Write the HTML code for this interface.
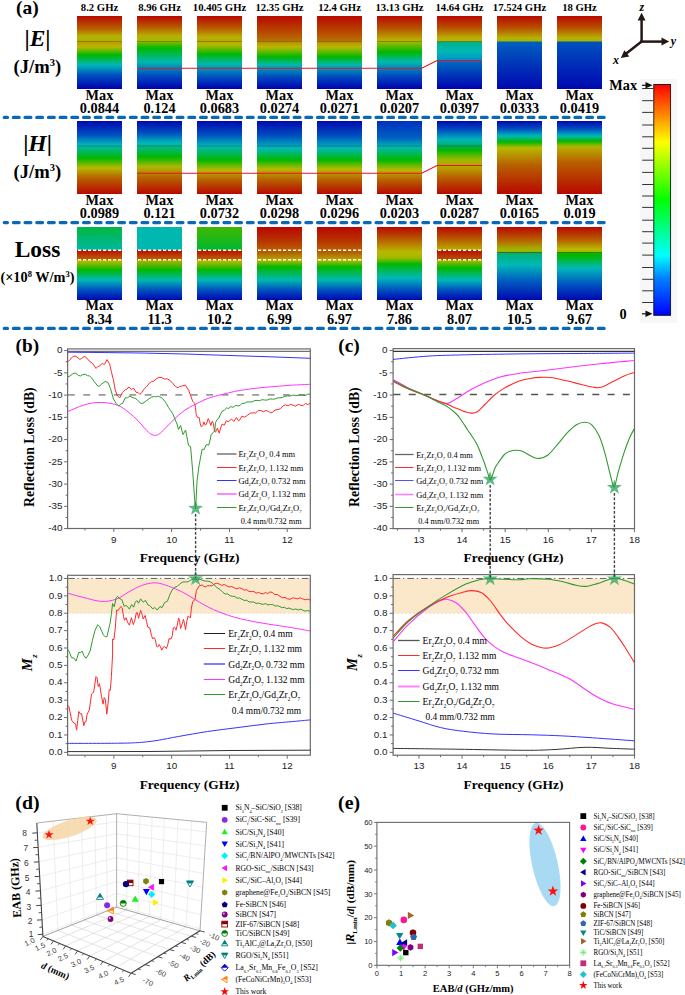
<!DOCTYPE html>
<html><head><meta charset="utf-8"><style>
html,body{margin:0;padding:0;background:#fff;}
body{width:685px;height:995px;overflow:hidden;}
svg{display:block;}
</style></head><body>
<svg width="685" height="995" viewBox="0 0 685 995">
<defs><linearGradient id="g0_0" x1="0" y1="0" x2="0" y2="1"><stop offset="0.0000" stop-color="#b80800"/><stop offset="0.1781" stop-color="#b86000"/><stop offset="0.2740" stop-color="#b8b000"/><stop offset="0.3425" stop-color="#a8b400"/><stop offset="0.3562" stop-color="#c09800"/><stop offset="0.4247" stop-color="#b8b800"/><stop offset="0.5342" stop-color="#00b800"/><stop offset="0.6712" stop-color="#00b8b8"/><stop offset="0.8082" stop-color="#0050c0"/><stop offset="1.0000" stop-color="#0000b0"/></linearGradient><linearGradient id="g0_1" x1="0" y1="0" x2="0" y2="1"><stop offset="0.0000" stop-color="#b80800"/><stop offset="0.1370" stop-color="#b85000"/><stop offset="0.2740" stop-color="#b8b000"/><stop offset="0.3425" stop-color="#a0b800"/><stop offset="0.3562" stop-color="#80b800"/><stop offset="0.4384" stop-color="#00b800"/><stop offset="0.6301" stop-color="#00b8b0"/><stop offset="0.8082" stop-color="#0050c0"/><stop offset="1.0000" stop-color="#0000b0"/></linearGradient><linearGradient id="g0_2" x1="0" y1="0" x2="0" y2="1"><stop offset="0.0000" stop-color="#b80800"/><stop offset="0.1644" stop-color="#b85800"/><stop offset="0.2877" stop-color="#b8b000"/><stop offset="0.3425" stop-color="#b8a800"/><stop offset="0.3562" stop-color="#b8b000"/><stop offset="0.3973" stop-color="#b0b800"/><stop offset="0.5205" stop-color="#00b800"/><stop offset="0.6575" stop-color="#00b8b0"/><stop offset="0.8356" stop-color="#0050c0"/><stop offset="1.0000" stop-color="#0000b0"/></linearGradient><linearGradient id="g0_3" x1="0" y1="0" x2="0" y2="1"><stop offset="0.0000" stop-color="#b80800"/><stop offset="0.1918" stop-color="#b84000"/><stop offset="0.3425" stop-color="#b87000"/><stop offset="0.3562" stop-color="#b89000"/><stop offset="0.4247" stop-color="#b8b800"/><stop offset="0.5616" stop-color="#00b800"/><stop offset="0.6712" stop-color="#00b8b0"/><stop offset="0.8219" stop-color="#0050c0"/><stop offset="1.0000" stop-color="#0000b0"/></linearGradient><linearGradient id="g0_4" x1="0" y1="0" x2="0" y2="1"><stop offset="0.0000" stop-color="#b80800"/><stop offset="0.1918" stop-color="#b84000"/><stop offset="0.3425" stop-color="#b87000"/><stop offset="0.3562" stop-color="#b89000"/><stop offset="0.4247" stop-color="#b8b800"/><stop offset="0.5616" stop-color="#00b800"/><stop offset="0.6712" stop-color="#00b8b0"/><stop offset="0.8219" stop-color="#0050c0"/><stop offset="1.0000" stop-color="#0000b0"/></linearGradient><linearGradient id="g0_5" x1="0" y1="0" x2="0" y2="1"><stop offset="0.0000" stop-color="#b80800"/><stop offset="0.1644" stop-color="#b85000"/><stop offset="0.3288" stop-color="#b8b000"/><stop offset="0.3562" stop-color="#a0b800"/><stop offset="0.4932" stop-color="#00b800"/><stop offset="0.6301" stop-color="#00b8b0"/><stop offset="0.8082" stop-color="#0050c0"/><stop offset="1.0000" stop-color="#0000b0"/></linearGradient><linearGradient id="g0_6" x1="0" y1="0" x2="0" y2="1"><stop offset="0.0000" stop-color="#b80800"/><stop offset="0.1644" stop-color="#b85000"/><stop offset="0.3014" stop-color="#b8b000"/><stop offset="0.3479" stop-color="#b0b800"/><stop offset="0.3507" stop-color="#00b088"/><stop offset="0.4932" stop-color="#00b8b8"/><stop offset="0.6027" stop-color="#0090c0"/><stop offset="0.6301" stop-color="#0068c0"/><stop offset="1.0000" stop-color="#0000b0"/></linearGradient><linearGradient id="g0_7" x1="0" y1="0" x2="0" y2="1"><stop offset="0.0000" stop-color="#b80800"/><stop offset="0.1644" stop-color="#b85000"/><stop offset="0.3014" stop-color="#b8b000"/><stop offset="0.3479" stop-color="#a0b800"/><stop offset="0.3507" stop-color="#0060c0"/><stop offset="1.0000" stop-color="#0008b0"/></linearGradient><linearGradient id="g0_8" x1="0" y1="0" x2="0" y2="1"><stop offset="0.0000" stop-color="#b80800"/><stop offset="0.1644" stop-color="#b85000"/><stop offset="0.3014" stop-color="#b8b000"/><stop offset="0.3479" stop-color="#a0b800"/><stop offset="0.3507" stop-color="#0050c0"/><stop offset="1.0000" stop-color="#0008b0"/></linearGradient><linearGradient id="g1_0" x1="0" y1="0" x2="0" y2="1"><stop offset="0.0000" stop-color="#0008b0"/><stop offset="0.1918" stop-color="#0050c0"/><stop offset="0.3288" stop-color="#00b8b8"/><stop offset="0.5068" stop-color="#00b800"/><stop offset="0.6438" stop-color="#b8b800"/><stop offset="0.7808" stop-color="#b86000"/><stop offset="1.0000" stop-color="#b80800"/></linearGradient><linearGradient id="g1_1" x1="0" y1="0" x2="0" y2="1"><stop offset="0.0000" stop-color="#0008b0"/><stop offset="0.1644" stop-color="#0050c0"/><stop offset="0.3014" stop-color="#00b8b8"/><stop offset="0.4932" stop-color="#00b800"/><stop offset="0.6301" stop-color="#b0b800"/><stop offset="0.7808" stop-color="#b86000"/><stop offset="1.0000" stop-color="#b80800"/></linearGradient><linearGradient id="g1_2" x1="0" y1="0" x2="0" y2="1"><stop offset="0.0000" stop-color="#0008b0"/><stop offset="0.1918" stop-color="#0050c0"/><stop offset="0.3425" stop-color="#00b8b8"/><stop offset="0.5342" stop-color="#00b800"/><stop offset="0.6712" stop-color="#b8b800"/><stop offset="0.8082" stop-color="#b86000"/><stop offset="1.0000" stop-color="#b80800"/></linearGradient><linearGradient id="g1_3" x1="0" y1="0" x2="0" y2="1"><stop offset="0.0000" stop-color="#0008b0"/><stop offset="0.2055" stop-color="#0050c0"/><stop offset="0.3699" stop-color="#00b8b8"/><stop offset="0.5342" stop-color="#00b800"/><stop offset="0.6575" stop-color="#b8b800"/><stop offset="0.8082" stop-color="#b86000"/><stop offset="1.0000" stop-color="#b80800"/></linearGradient><linearGradient id="g1_4" x1="0" y1="0" x2="0" y2="1"><stop offset="0.0000" stop-color="#0008b0"/><stop offset="0.2055" stop-color="#0050c0"/><stop offset="0.3699" stop-color="#00b8b8"/><stop offset="0.5342" stop-color="#00b800"/><stop offset="0.6575" stop-color="#b8b800"/><stop offset="0.8082" stop-color="#b86000"/><stop offset="1.0000" stop-color="#b80800"/></linearGradient><linearGradient id="g1_5" x1="0" y1="0" x2="0" y2="1"><stop offset="0.0000" stop-color="#0030c0"/><stop offset="0.2329" stop-color="#0060c0"/><stop offset="0.3562" stop-color="#00b8b0"/><stop offset="0.5342" stop-color="#00b800"/><stop offset="0.6712" stop-color="#b8b800"/><stop offset="0.8082" stop-color="#b86000"/><stop offset="1.0000" stop-color="#b80800"/></linearGradient><linearGradient id="g1_6" x1="0" y1="0" x2="0" y2="1"><stop offset="0.0000" stop-color="#0008b0"/><stop offset="0.1233" stop-color="#0050c0"/><stop offset="0.2603" stop-color="#00b8b8"/><stop offset="0.3425" stop-color="#00b060"/><stop offset="0.3973" stop-color="#00b800"/><stop offset="0.5342" stop-color="#a0b800"/><stop offset="0.6438" stop-color="#b8a000"/><stop offset="0.8082" stop-color="#b85000"/><stop offset="1.0000" stop-color="#b80800"/></linearGradient><linearGradient id="g1_7" x1="0" y1="0" x2="0" y2="1"><stop offset="0.0000" stop-color="#0008b0"/><stop offset="0.1096" stop-color="#0050c0"/><stop offset="0.2055" stop-color="#00b8b8"/><stop offset="0.2877" stop-color="#00b800"/><stop offset="0.3425" stop-color="#80b800"/><stop offset="0.3699" stop-color="#b8b800"/><stop offset="0.6027" stop-color="#b86000"/><stop offset="1.0000" stop-color="#b80800"/></linearGradient><linearGradient id="g1_8" x1="0" y1="0" x2="0" y2="1"><stop offset="0.0000" stop-color="#0008b0"/><stop offset="0.1096" stop-color="#0050c0"/><stop offset="0.2055" stop-color="#00b8b8"/><stop offset="0.2740" stop-color="#00b800"/><stop offset="0.3425" stop-color="#a0b800"/><stop offset="0.3699" stop-color="#b8a800"/><stop offset="0.5616" stop-color="#b86000"/><stop offset="1.0000" stop-color="#b80800"/></linearGradient><linearGradient id="g2_0" x1="0" y1="0" x2="0" y2="1"><stop offset="0.0000" stop-color="#00b840"/><stop offset="0.3151" stop-color="#00b8a0"/><stop offset="0.3219" stop-color="#b81000"/><stop offset="0.4452" stop-color="#c06000"/><stop offset="0.4521" stop-color="#b0b800"/><stop offset="0.4795" stop-color="#a8b800"/><stop offset="0.5890" stop-color="#00b800"/><stop offset="0.7260" stop-color="#00b8b8"/><stop offset="0.8630" stop-color="#0050c0"/><stop offset="1.0000" stop-color="#0008b0"/></linearGradient><linearGradient id="g2_1" x1="0" y1="0" x2="0" y2="1"><stop offset="0.0000" stop-color="#00b8b0"/><stop offset="0.3151" stop-color="#00b8b0"/><stop offset="0.3219" stop-color="#b81000"/><stop offset="0.4452" stop-color="#c06000"/><stop offset="0.4521" stop-color="#b8b000"/><stop offset="0.5890" stop-color="#00b800"/><stop offset="0.7260" stop-color="#00b8b0"/><stop offset="0.8630" stop-color="#0050c0"/><stop offset="1.0000" stop-color="#0008b0"/></linearGradient><linearGradient id="g2_2" x1="0" y1="0" x2="0" y2="1"><stop offset="0.0000" stop-color="#40b800"/><stop offset="0.3151" stop-color="#00b830"/><stop offset="0.3219" stop-color="#b81000"/><stop offset="0.4452" stop-color="#c06000"/><stop offset="0.4521" stop-color="#b0b800"/><stop offset="0.4795" stop-color="#a8b800"/><stop offset="0.5890" stop-color="#00b800"/><stop offset="0.7260" stop-color="#00b8b8"/><stop offset="0.8630" stop-color="#0050c0"/><stop offset="1.0000" stop-color="#0008b0"/></linearGradient><linearGradient id="g2_3" x1="0" y1="0" x2="0" y2="1"><stop offset="0.0000" stop-color="#b80800"/><stop offset="0.1781" stop-color="#b83000"/><stop offset="0.3151" stop-color="#b86000"/><stop offset="0.3219" stop-color="#b05000"/><stop offset="0.4452" stop-color="#b8a000"/><stop offset="0.4521" stop-color="#b8b800"/><stop offset="0.5479" stop-color="#00b800"/><stop offset="0.7260" stop-color="#00b8b0"/><stop offset="0.8630" stop-color="#0050c0"/><stop offset="1.0000" stop-color="#0008b0"/></linearGradient><linearGradient id="g2_4" x1="0" y1="0" x2="0" y2="1"><stop offset="0.0000" stop-color="#b80800"/><stop offset="0.1781" stop-color="#b83000"/><stop offset="0.3151" stop-color="#b86000"/><stop offset="0.3219" stop-color="#b05000"/><stop offset="0.4452" stop-color="#b8a000"/><stop offset="0.4521" stop-color="#b8b800"/><stop offset="0.5479" stop-color="#00b800"/><stop offset="0.7260" stop-color="#00b8b0"/><stop offset="0.8630" stop-color="#0050c0"/><stop offset="1.0000" stop-color="#0008b0"/></linearGradient><linearGradient id="g2_5" x1="0" y1="0" x2="0" y2="1"><stop offset="0.0000" stop-color="#b80800"/><stop offset="0.1781" stop-color="#b86000"/><stop offset="0.3425" stop-color="#b8b800"/><stop offset="0.4247" stop-color="#a0b800"/><stop offset="0.5068" stop-color="#00b800"/><stop offset="0.6986" stop-color="#00b8b8"/><stop offset="0.8630" stop-color="#0050c0"/><stop offset="1.0000" stop-color="#0008b0"/></linearGradient><linearGradient id="g2_6" x1="0" y1="0" x2="0" y2="1"><stop offset="0.0000" stop-color="#b80800"/><stop offset="0.1781" stop-color="#b86000"/><stop offset="0.3151" stop-color="#b8b000"/><stop offset="0.3219" stop-color="#b81000"/><stop offset="0.4452" stop-color="#b85000"/><stop offset="0.4521" stop-color="#b0b800"/><stop offset="0.5616" stop-color="#00b800"/><stop offset="0.7260" stop-color="#00b8b8"/><stop offset="0.8630" stop-color="#0050c0"/><stop offset="1.0000" stop-color="#0008b0"/></linearGradient><linearGradient id="g2_7" x1="0" y1="0" x2="0" y2="1"><stop offset="0.0000" stop-color="#b80800"/><stop offset="0.1781" stop-color="#b86000"/><stop offset="0.3151" stop-color="#a0b800"/><stop offset="0.3479" stop-color="#90b000"/><stop offset="0.3507" stop-color="#00b070"/><stop offset="0.5205" stop-color="#00b8b8"/><stop offset="0.7260" stop-color="#0060c0"/><stop offset="1.0000" stop-color="#0008b0"/></linearGradient><linearGradient id="g2_8" x1="0" y1="0" x2="0" y2="1"><stop offset="0.0000" stop-color="#b80800"/><stop offset="0.1781" stop-color="#b86000"/><stop offset="0.3014" stop-color="#b8b800"/><stop offset="0.3479" stop-color="#a0b800"/><stop offset="0.3507" stop-color="#00b800"/><stop offset="0.3973" stop-color="#00b800"/><stop offset="0.5616" stop-color="#00b8b8"/><stop offset="0.7945" stop-color="#0050c0"/><stop offset="1.0000" stop-color="#0008b0"/></linearGradient><linearGradient id="cbar" x1="0" y1="0" x2="0" y2="1"><stop offset="0" stop-color="#ff0000"/><stop offset="0.125" stop-color="#ff8000"/><stop offset="0.25" stop-color="#ffff00"/><stop offset="0.5" stop-color="#00ff00"/><stop offset="0.74" stop-color="#00ffff"/><stop offset="0.84" stop-color="#0080ff"/><stop offset="1" stop-color="#0000ff"/></linearGradient></defs>
<rect width="685" height="995" fill="#fff"/>
<rect x="77" y="16" width="45" height="73" fill="url(#g0_0)"/>
<text x="99.5" y="100" font-family='"Liberation Serif", serif' font-weight="bold" font-size="14.3" text-anchor="middle">Max</text>
<text x="99.5" y="113.4" font-family='"Liberation Serif", serif' font-weight="bold" font-size="14.3" text-anchor="middle">0.0844</text>
<rect x="137" y="16" width="45" height="73" fill="url(#g0_1)"/>
<text x="159.5" y="100" font-family='"Liberation Serif", serif' font-weight="bold" font-size="14.3" text-anchor="middle">Max</text>
<text x="159.5" y="113.4" font-family='"Liberation Serif", serif' font-weight="bold" font-size="14.3" text-anchor="middle">0.124</text>
<rect x="197" y="16" width="45" height="73" fill="url(#g0_2)"/>
<text x="219.5" y="100" font-family='"Liberation Serif", serif' font-weight="bold" font-size="14.3" text-anchor="middle">Max</text>
<text x="219.5" y="113.4" font-family='"Liberation Serif", serif' font-weight="bold" font-size="14.3" text-anchor="middle">0.0683</text>
<rect x="257" y="16" width="45" height="73" fill="url(#g0_3)"/>
<text x="279.5" y="100" font-family='"Liberation Serif", serif' font-weight="bold" font-size="14.3" text-anchor="middle">Max</text>
<text x="279.5" y="113.4" font-family='"Liberation Serif", serif' font-weight="bold" font-size="14.3" text-anchor="middle">0.0274</text>
<rect x="317" y="16" width="45" height="73" fill="url(#g0_4)"/>
<text x="339.5" y="100" font-family='"Liberation Serif", serif' font-weight="bold" font-size="14.3" text-anchor="middle">Max</text>
<text x="339.5" y="113.4" font-family='"Liberation Serif", serif' font-weight="bold" font-size="14.3" text-anchor="middle">0.0271</text>
<rect x="377" y="16" width="45" height="73" fill="url(#g0_5)"/>
<text x="399.5" y="100" font-family='"Liberation Serif", serif' font-weight="bold" font-size="14.3" text-anchor="middle">Max</text>
<text x="399.5" y="113.4" font-family='"Liberation Serif", serif' font-weight="bold" font-size="14.3" text-anchor="middle">0.0207</text>
<rect x="437" y="16" width="45" height="73" fill="url(#g0_6)"/>
<text x="459.5" y="100" font-family='"Liberation Serif", serif' font-weight="bold" font-size="14.3" text-anchor="middle">Max</text>
<text x="459.5" y="113.4" font-family='"Liberation Serif", serif' font-weight="bold" font-size="14.3" text-anchor="middle">0.0397</text>
<rect x="497" y="16" width="45" height="73" fill="url(#g0_7)"/>
<text x="519.5" y="100" font-family='"Liberation Serif", serif' font-weight="bold" font-size="14.3" text-anchor="middle">Max</text>
<text x="519.5" y="113.4" font-family='"Liberation Serif", serif' font-weight="bold" font-size="14.3" text-anchor="middle">0.0333</text>
<rect x="557" y="16" width="45" height="73" fill="url(#g0_8)"/>
<text x="579.5" y="100" font-family='"Liberation Serif", serif' font-weight="bold" font-size="14.3" text-anchor="middle">Max</text>
<text x="579.5" y="113.4" font-family='"Liberation Serif", serif' font-weight="bold" font-size="14.3" text-anchor="middle">0.0419</text>
<rect x="77" y="121" width="45" height="73" fill="url(#g1_0)"/>
<text x="99.5" y="204.8" font-family='"Liberation Serif", serif' font-weight="bold" font-size="14.3" text-anchor="middle">Max</text>
<text x="99.5" y="218.2" font-family='"Liberation Serif", serif' font-weight="bold" font-size="14.3" text-anchor="middle">0.0989</text>
<rect x="137" y="121" width="45" height="73" fill="url(#g1_1)"/>
<text x="159.5" y="204.8" font-family='"Liberation Serif", serif' font-weight="bold" font-size="14.3" text-anchor="middle">Max</text>
<text x="159.5" y="218.2" font-family='"Liberation Serif", serif' font-weight="bold" font-size="14.3" text-anchor="middle">0.121</text>
<rect x="197" y="121" width="45" height="73" fill="url(#g1_2)"/>
<text x="219.5" y="204.8" font-family='"Liberation Serif", serif' font-weight="bold" font-size="14.3" text-anchor="middle">Max</text>
<text x="219.5" y="218.2" font-family='"Liberation Serif", serif' font-weight="bold" font-size="14.3" text-anchor="middle">0.0732</text>
<rect x="257" y="121" width="45" height="73" fill="url(#g1_3)"/>
<text x="279.5" y="204.8" font-family='"Liberation Serif", serif' font-weight="bold" font-size="14.3" text-anchor="middle">Max</text>
<text x="279.5" y="218.2" font-family='"Liberation Serif", serif' font-weight="bold" font-size="14.3" text-anchor="middle">0.0298</text>
<rect x="317" y="121" width="45" height="73" fill="url(#g1_4)"/>
<text x="339.5" y="204.8" font-family='"Liberation Serif", serif' font-weight="bold" font-size="14.3" text-anchor="middle">Max</text>
<text x="339.5" y="218.2" font-family='"Liberation Serif", serif' font-weight="bold" font-size="14.3" text-anchor="middle">0.0296</text>
<rect x="377" y="121" width="45" height="73" fill="url(#g1_5)"/>
<text x="399.5" y="204.8" font-family='"Liberation Serif", serif' font-weight="bold" font-size="14.3" text-anchor="middle">Max</text>
<text x="399.5" y="218.2" font-family='"Liberation Serif", serif' font-weight="bold" font-size="14.3" text-anchor="middle">0.0203</text>
<rect x="437" y="121" width="45" height="73" fill="url(#g1_6)"/>
<text x="459.5" y="204.8" font-family='"Liberation Serif", serif' font-weight="bold" font-size="14.3" text-anchor="middle">Max</text>
<text x="459.5" y="218.2" font-family='"Liberation Serif", serif' font-weight="bold" font-size="14.3" text-anchor="middle">0.0287</text>
<rect x="497" y="121" width="45" height="73" fill="url(#g1_7)"/>
<text x="519.5" y="204.8" font-family='"Liberation Serif", serif' font-weight="bold" font-size="14.3" text-anchor="middle">Max</text>
<text x="519.5" y="218.2" font-family='"Liberation Serif", serif' font-weight="bold" font-size="14.3" text-anchor="middle">0.0165</text>
<rect x="557" y="121" width="45" height="73" fill="url(#g1_8)"/>
<text x="579.5" y="204.8" font-family='"Liberation Serif", serif' font-weight="bold" font-size="14.3" text-anchor="middle">Max</text>
<text x="579.5" y="218.2" font-family='"Liberation Serif", serif' font-weight="bold" font-size="14.3" text-anchor="middle">0.019</text>
<rect x="77" y="227" width="45" height="73" fill="url(#g2_0)"/>
<text x="99.5" y="310.4" font-family='"Liberation Serif", serif' font-weight="bold" font-size="14.3" text-anchor="middle">Max</text>
<text x="99.5" y="323.8" font-family='"Liberation Serif", serif' font-weight="bold" font-size="14.3" text-anchor="middle">8.34</text>
<rect x="137" y="227" width="45" height="73" fill="url(#g2_1)"/>
<text x="159.5" y="310.4" font-family='"Liberation Serif", serif' font-weight="bold" font-size="14.3" text-anchor="middle">Max</text>
<text x="159.5" y="323.8" font-family='"Liberation Serif", serif' font-weight="bold" font-size="14.3" text-anchor="middle">11.3</text>
<rect x="197" y="227" width="45" height="73" fill="url(#g2_2)"/>
<text x="219.5" y="310.4" font-family='"Liberation Serif", serif' font-weight="bold" font-size="14.3" text-anchor="middle">Max</text>
<text x="219.5" y="323.8" font-family='"Liberation Serif", serif' font-weight="bold" font-size="14.3" text-anchor="middle">10.2</text>
<rect x="257" y="227" width="45" height="73" fill="url(#g2_3)"/>
<text x="279.5" y="310.4" font-family='"Liberation Serif", serif' font-weight="bold" font-size="14.3" text-anchor="middle">Max</text>
<text x="279.5" y="323.8" font-family='"Liberation Serif", serif' font-weight="bold" font-size="14.3" text-anchor="middle">6.99</text>
<rect x="317" y="227" width="45" height="73" fill="url(#g2_4)"/>
<text x="339.5" y="310.4" font-family='"Liberation Serif", serif' font-weight="bold" font-size="14.3" text-anchor="middle">Max</text>
<text x="339.5" y="323.8" font-family='"Liberation Serif", serif' font-weight="bold" font-size="14.3" text-anchor="middle">6.97</text>
<rect x="377" y="227" width="45" height="73" fill="url(#g2_5)"/>
<text x="399.5" y="310.4" font-family='"Liberation Serif", serif' font-weight="bold" font-size="14.3" text-anchor="middle">Max</text>
<text x="399.5" y="323.8" font-family='"Liberation Serif", serif' font-weight="bold" font-size="14.3" text-anchor="middle">7.86</text>
<rect x="437" y="227" width="45" height="73" fill="url(#g2_6)"/>
<text x="459.5" y="310.4" font-family='"Liberation Serif", serif' font-weight="bold" font-size="14.3" text-anchor="middle">Max</text>
<text x="459.5" y="323.8" font-family='"Liberation Serif", serif' font-weight="bold" font-size="14.3" text-anchor="middle">8.07</text>
<rect x="497" y="227" width="45" height="73" fill="url(#g2_7)"/>
<text x="519.5" y="310.4" font-family='"Liberation Serif", serif' font-weight="bold" font-size="14.3" text-anchor="middle">Max</text>
<text x="519.5" y="323.8" font-family='"Liberation Serif", serif' font-weight="bold" font-size="14.3" text-anchor="middle">10.5</text>
<rect x="557" y="227" width="45" height="73" fill="url(#g2_8)"/>
<text x="579.5" y="310.4" font-family='"Liberation Serif", serif' font-weight="bold" font-size="14.3" text-anchor="middle">Max</text>
<text x="579.5" y="323.8" font-family='"Liberation Serif", serif' font-weight="bold" font-size="14.3" text-anchor="middle">9.67</text>
<line x1="77" y1="41.5" x2="122" y2="41.5" stroke="#5a4a10" stroke-opacity="0.55" stroke-width="0.8"/>
<line x1="77" y1="146" x2="122" y2="146" stroke="#104040" stroke-opacity="0.5" stroke-width="0.8"/>
<line x1="78" y1="250.3" x2="122" y2="250.3" stroke="#fff" stroke-width="1.4" stroke-dasharray="3.2 1.8"/>
<line x1="78" y1="259.7" x2="122" y2="259.7" stroke="#fff" stroke-width="1.4" stroke-dasharray="3.2 1.8"/>
<line x1="137" y1="41.5" x2="182" y2="41.5" stroke="#5a4a10" stroke-opacity="0.55" stroke-width="0.8"/>
<line x1="137" y1="146" x2="182" y2="146" stroke="#104040" stroke-opacity="0.5" stroke-width="0.8"/>
<line x1="138" y1="250.3" x2="182" y2="250.3" stroke="#fff" stroke-width="1.4" stroke-dasharray="3.2 1.8"/>
<line x1="138" y1="259.7" x2="182" y2="259.7" stroke="#fff" stroke-width="1.4" stroke-dasharray="3.2 1.8"/>
<line x1="197" y1="41.5" x2="242" y2="41.5" stroke="#5a4a10" stroke-opacity="0.55" stroke-width="0.8"/>
<line x1="197" y1="146" x2="242" y2="146" stroke="#104040" stroke-opacity="0.5" stroke-width="0.8"/>
<line x1="198" y1="250.3" x2="242" y2="250.3" stroke="#fff" stroke-width="1.4" stroke-dasharray="3.2 1.8"/>
<line x1="198" y1="259.7" x2="242" y2="259.7" stroke="#fff" stroke-width="1.4" stroke-dasharray="3.2 1.8"/>
<line x1="257" y1="41.5" x2="302" y2="41.5" stroke="#5a4a10" stroke-opacity="0.55" stroke-width="0.8"/>
<line x1="257" y1="146" x2="302" y2="146" stroke="#104040" stroke-opacity="0.5" stroke-width="0.8"/>
<line x1="258" y1="250.3" x2="302" y2="250.3" stroke="#fff" stroke-width="1.4" stroke-dasharray="3.2 1.8"/>
<line x1="258" y1="259.7" x2="302" y2="259.7" stroke="#fff" stroke-width="1.4" stroke-dasharray="3.2 1.8"/>
<line x1="317" y1="41.5" x2="362" y2="41.5" stroke="#5a4a10" stroke-opacity="0.55" stroke-width="0.8"/>
<line x1="317" y1="146" x2="362" y2="146" stroke="#104040" stroke-opacity="0.5" stroke-width="0.8"/>
<line x1="318" y1="250.3" x2="362" y2="250.3" stroke="#fff" stroke-width="1.4" stroke-dasharray="3.2 1.8"/>
<line x1="318" y1="259.7" x2="362" y2="259.7" stroke="#fff" stroke-width="1.4" stroke-dasharray="3.2 1.8"/>
<line x1="377" y1="41.5" x2="422" y2="41.5" stroke="#5a4a10" stroke-opacity="0.55" stroke-width="0.8"/>
<line x1="377" y1="146" x2="422" y2="146" stroke="#104040" stroke-opacity="0.5" stroke-width="0.8"/>
<line x1="437" y1="41.5" x2="482" y2="41.5" stroke="#5a4a10" stroke-opacity="0.55" stroke-width="0.8"/>
<line x1="437" y1="146" x2="482" y2="146" stroke="#104040" stroke-opacity="0.5" stroke-width="0.8"/>
<line x1="438" y1="250.3" x2="482" y2="250.3" stroke="#fff" stroke-width="1.4" stroke-dasharray="3.2 1.8"/>
<line x1="438" y1="259.7" x2="482" y2="259.7" stroke="#fff" stroke-width="1.4" stroke-dasharray="3.2 1.8"/>
<line x1="497" y1="252.5" x2="542" y2="252.5" stroke="#304000" stroke-opacity="0.6" stroke-width="0.9"/>
<line x1="557" y1="252.5" x2="602" y2="252.5" stroke="#304000" stroke-opacity="0.6" stroke-width="0.9"/>
<polyline points="137,68.3 421.7,68.3 437,60.5 482,60.5" fill="none" stroke="#e8102a" stroke-width="1.1"/>
<polyline points="137,173.2 421.7,173.2 437,165.5 482,165.5" fill="none" stroke="#e8102a" stroke-width="1.1"/>
<text x="99.5" y="11.4" font-family='"Liberation Serif", serif' font-weight="bold" font-size="10.7" text-anchor="middle">8.2 GHz</text>
<text x="159.5" y="11.4" font-family='"Liberation Serif", serif' font-weight="bold" font-size="10.7" text-anchor="middle">8.96 GHz</text>
<text x="219.5" y="11.4" font-family='"Liberation Serif", serif' font-weight="bold" font-size="10.7" text-anchor="middle">10.405 GHz</text>
<text x="279.5" y="11.4" font-family='"Liberation Serif", serif' font-weight="bold" font-size="10.7" text-anchor="middle">12.35 GHz</text>
<text x="339.5" y="11.4" font-family='"Liberation Serif", serif' font-weight="bold" font-size="10.7" text-anchor="middle">12.4 GHz</text>
<text x="399.5" y="11.4" font-family='"Liberation Serif", serif' font-weight="bold" font-size="10.7" text-anchor="middle">13.13 GHz</text>
<text x="459.5" y="11.4" font-family='"Liberation Serif", serif' font-weight="bold" font-size="10.7" text-anchor="middle">14.64 GHz</text>
<text x="519.5" y="11.4" font-family='"Liberation Serif", serif' font-weight="bold" font-size="10.7" text-anchor="middle">17.524 GHz</text>
<text x="579.5" y="11.4" font-family='"Liberation Serif", serif' font-weight="bold" font-size="10.7" text-anchor="middle">18 GHz</text>
<line x1="4.2" y1="117.4" x2="607.4" y2="117.4" stroke="#0a68b8" stroke-width="3.1" stroke-linecap="round" stroke-dasharray="5.9 5.8" stroke-dashoffset="2.6"/>
<line x1="4.2" y1="222.6" x2="607.4" y2="222.6" stroke="#0a68b8" stroke-width="3.1" stroke-linecap="round" stroke-dasharray="5.9 5.8" stroke-dashoffset="2.6"/>
<line x1="4.2" y1="328.4" x2="607.4" y2="328.4" stroke="#0a68b8" stroke-width="3.1" stroke-linecap="round" stroke-dasharray="5.9 5.8" stroke-dashoffset="2.6"/>
<text x="16" y="13.6" font-family='"Liberation Serif", serif' font-weight="bold" font-size="19.5">(a)</text>
<text x="37.5" y="45.8" font-family='"Liberation Serif", serif' font-weight="bold" font-size="23.5" text-anchor="middle">|<tspan font-style="italic">E</tspan>|</text>
<text x="37.3" y="73" font-family='"Liberation Serif", serif' font-weight="bold" font-size="18.6" text-anchor="middle">(J/m<tspan font-size="10.5" dy="-7">3</tspan><tspan dy="7">)</tspan></text>
<text x="37.5" y="150.8" font-family='"Liberation Serif", serif' font-weight="bold" font-size="23.5" text-anchor="middle">|<tspan font-style="italic">H</tspan>|</text>
<text x="37.3" y="178" font-family='"Liberation Serif", serif' font-weight="bold" font-size="18.6" text-anchor="middle">(J/m<tspan font-size="10.5" dy="-7">3</tspan><tspan dy="7">)</tspan></text>
<text x="37.5" y="257" font-family='"Liberation Serif", serif' font-weight="bold" font-size="23.5" text-anchor="middle">Loss</text>
<text x="37.4" y="282.3" font-family='"Liberation Serif", serif' font-weight="bold" font-size="14.3" text-anchor="middle">(×10<tspan font-size="8.5" dy="-5.5">8</tspan><tspan dy="5.5"> W/m</tspan><tspan font-size="8.5" dy="-5.5">3</tspan><tspan dy="5.5">)</tspan></text>
<rect x="639.7" y="79" width="37.5" height="244" fill="#f7f7f7"/>
<rect x="653.8" y="84.5" width="16.8" height="230.8" fill="url(#cbar)" stroke="#111" stroke-width="0.9"/>
<line x1="642.2" y1="88.5" x2="653.5" y2="88.5" stroke="#333" stroke-width="1"/>
<line x1="642.2" y1="100.7" x2="653.5" y2="100.7" stroke="#333" stroke-width="1"/>
<line x1="642.2" y1="112.4" x2="653.5" y2="112.4" stroke="#333" stroke-width="1"/>
<line x1="642.2" y1="125" x2="653.5" y2="125" stroke="#333" stroke-width="1"/>
<line x1="642.2" y1="136.8" x2="653.5" y2="136.8" stroke="#333" stroke-width="1"/>
<line x1="642.2" y1="148.3" x2="653.5" y2="148.3" stroke="#333" stroke-width="1"/>
<line x1="642.2" y1="160.2" x2="653.5" y2="160.2" stroke="#333" stroke-width="1"/>
<line x1="642.2" y1="172.4" x2="653.5" y2="172.4" stroke="#333" stroke-width="1"/>
<line x1="642.2" y1="184.5" x2="653.5" y2="184.5" stroke="#333" stroke-width="1"/>
<line x1="642.2" y1="196" x2="653.5" y2="196" stroke="#333" stroke-width="1"/>
<line x1="642.2" y1="207.4" x2="653.5" y2="207.4" stroke="#333" stroke-width="1"/>
<line x1="642.2" y1="220.2" x2="653.5" y2="220.2" stroke="#333" stroke-width="1"/>
<line x1="642.2" y1="231.7" x2="653.5" y2="231.7" stroke="#333" stroke-width="1"/>
<line x1="642.2" y1="243.1" x2="653.5" y2="243.1" stroke="#333" stroke-width="1"/>
<line x1="642.2" y1="255.1" x2="653.5" y2="255.1" stroke="#333" stroke-width="1"/>
<line x1="642.2" y1="267.5" x2="653.5" y2="267.5" stroke="#333" stroke-width="1"/>
<line x1="642.2" y1="279.3" x2="653.5" y2="279.3" stroke="#333" stroke-width="1"/>
<line x1="642.2" y1="290.8" x2="653.5" y2="290.8" stroke="#333" stroke-width="1"/>
<line x1="642.2" y1="302.5" x2="653.5" y2="302.5" stroke="#333" stroke-width="1"/>
<line x1="642" y1="85.3" x2="648" y2="85.3" stroke="#111" stroke-width="1.2"/><polygon points="645.5,82 652.5,85.3 645.5,88.6" fill="#111"/>
<line x1="642" y1="313.8" x2="648" y2="313.8" stroke="#111" stroke-width="1.2"/><polygon points="645.5,310.5 652.5,313.8 645.5,317.1" fill="#111"/>
<text x="609.3" y="90" font-family='"Liberation Serif", serif' font-weight="bold" font-size="14.3">Max</text>
<text x="619.6" y="318.5" font-family='"Liberation Serif", serif' font-weight="bold" font-size="14.3">0</text>
<g stroke="#231815" stroke-width="2.5" fill="none"><line x1="641.6" y1="42" x2="641.6" y2="17"/><line x1="640.5" y1="41.6" x2="665" y2="41.6"/><line x1="641.6" y1="41.6" x2="625" y2="54.6"/></g>
<g fill="#231815"><polygon points="641.6,12.8 637.6,20.5 645.6,20.5"/><polygon points="669.2,41.6 661.5,37.6 661.5,45.6"/><polygon points="620.8,58 624.4,50.3 629.3,56.6"/></g>
<text x="641.8" y="11" font-family='"Liberation Serif", serif' font-style="italic" font-weight="bold" font-size="12" text-anchor="middle">z</text>
<text x="673.5" y="44.5" font-family='"Liberation Serif", serif' font-style="italic" font-weight="bold" font-size="12" text-anchor="middle">y</text>
<text x="616" y="63.5" font-family='"Liberation Serif", serif' font-style="italic" font-weight="bold" font-size="12" text-anchor="middle">x</text>
<text x="15.5" y="352.2" font-family='"Liberation Serif", serif' font-weight="bold" font-size="19.3">(b)</text>
<text x="338.3" y="352.2" font-family='"Liberation Serif", serif' font-weight="bold" font-size="19.3">(c)</text>
<rect x="67.6" y="348.9" width="242.70000000000002" height="179.60000000000002" fill="none" stroke="#6a6a6a" stroke-width="1.2"/>
<line x1="113.84" y1="528.5" x2="113.84" y2="532.0" stroke="#6a6a6a" stroke-width="1"/>
<text x="113.84" y="543" font-family='"Liberation Sans", sans-serif' font-size="9.9" text-anchor="middle" fill="#222">9</text>
<line x1="171.64" y1="528.5" x2="171.64" y2="532.0" stroke="#6a6a6a" stroke-width="1"/>
<text x="171.64" y="543" font-family='"Liberation Sans", sans-serif' font-size="9.9" text-anchor="middle" fill="#222">10</text>
<line x1="229.44" y1="528.5" x2="229.44" y2="532.0" stroke="#6a6a6a" stroke-width="1"/>
<text x="229.44" y="543" font-family='"Liberation Sans", sans-serif' font-size="9.9" text-anchor="middle" fill="#222">11</text>
<line x1="287.24" y1="528.5" x2="287.24" y2="532.0" stroke="#6a6a6a" stroke-width="1"/>
<text x="287.24" y="543" font-family='"Liberation Sans", sans-serif' font-size="9.9" text-anchor="middle" fill="#222">12</text>
<line x1="84.94" y1="528.5" x2="84.94" y2="530.5" stroke="#6a6a6a" stroke-width="1"/>
<line x1="142.74" y1="528.5" x2="142.74" y2="530.5" stroke="#6a6a6a" stroke-width="1"/>
<line x1="200.54" y1="528.5" x2="200.54" y2="530.5" stroke="#6a6a6a" stroke-width="1"/>
<line x1="258.34" y1="528.5" x2="258.34" y2="530.5" stroke="#6a6a6a" stroke-width="1"/>
<line x1="64.1" y1="350.60" x2="67.6" y2="350.60" stroke="#6a6a6a" stroke-width="1"/>
<text x="62.5" y="353.30" font-family='"Liberation Sans", sans-serif' font-size="9.9" text-anchor="end" fill="#222">0</text>
<line x1="64.1" y1="372.85" x2="67.6" y2="372.85" stroke="#6a6a6a" stroke-width="1"/>
<text x="62.5" y="375.55" font-family='"Liberation Sans", sans-serif' font-size="9.9" text-anchor="end" fill="#222">-5</text>
<line x1="64.1" y1="395.10" x2="67.6" y2="395.10" stroke="#6a6a6a" stroke-width="1"/>
<text x="62.5" y="397.80" font-family='"Liberation Sans", sans-serif' font-size="9.9" text-anchor="end" fill="#222">-10</text>
<line x1="64.1" y1="417.35" x2="67.6" y2="417.35" stroke="#6a6a6a" stroke-width="1"/>
<text x="62.5" y="420.05" font-family='"Liberation Sans", sans-serif' font-size="9.9" text-anchor="end" fill="#222">-15</text>
<line x1="64.1" y1="439.60" x2="67.6" y2="439.60" stroke="#6a6a6a" stroke-width="1"/>
<text x="62.5" y="442.30" font-family='"Liberation Sans", sans-serif' font-size="9.9" text-anchor="end" fill="#222">-20</text>
<line x1="64.1" y1="461.85" x2="67.6" y2="461.85" stroke="#6a6a6a" stroke-width="1"/>
<text x="62.5" y="464.55" font-family='"Liberation Sans", sans-serif' font-size="9.9" text-anchor="end" fill="#222">-25</text>
<line x1="64.1" y1="484.10" x2="67.6" y2="484.10" stroke="#6a6a6a" stroke-width="1"/>
<text x="62.5" y="486.80" font-family='"Liberation Sans", sans-serif' font-size="9.9" text-anchor="end" fill="#222">-30</text>
<line x1="64.1" y1="506.35" x2="67.6" y2="506.35" stroke="#6a6a6a" stroke-width="1"/>
<text x="62.5" y="509.05" font-family='"Liberation Sans", sans-serif' font-size="9.9" text-anchor="end" fill="#222">-35</text>
<line x1="64.1" y1="528.60" x2="67.6" y2="528.60" stroke="#6a6a6a" stroke-width="1"/>
<text x="62.5" y="531.30" font-family='"Liberation Sans", sans-serif' font-size="9.9" text-anchor="end" fill="#222">-40</text>
<line x1="65.6" y1="361.73" x2="67.6" y2="361.73" stroke="#6a6a6a" stroke-width="1"/>
<line x1="65.6" y1="383.98" x2="67.6" y2="383.98" stroke="#6a6a6a" stroke-width="1"/>
<line x1="65.6" y1="406.23" x2="67.6" y2="406.23" stroke="#6a6a6a" stroke-width="1"/>
<line x1="65.6" y1="428.48" x2="67.6" y2="428.48" stroke="#6a6a6a" stroke-width="1"/>
<line x1="65.6" y1="450.73" x2="67.6" y2="450.73" stroke="#6a6a6a" stroke-width="1"/>
<line x1="65.6" y1="472.98" x2="67.6" y2="472.98" stroke="#6a6a6a" stroke-width="1"/>
<line x1="65.6" y1="495.23" x2="67.6" y2="495.23" stroke="#6a6a6a" stroke-width="1"/>
<line x1="65.6" y1="517.48" x2="67.6" y2="517.48" stroke="#6a6a6a" stroke-width="1"/>
<line x1="67.90" y1="394.90" x2="306.00" y2="394.90" stroke="#9a9a9a" stroke-width="1.8" stroke-dasharray="6.9 8.46"/>
<polygon points="195.6,500.4 197.4,505.8 203.1,505.9 198.5,509.3 200.2,514.7 195.6,511.4 191.0,514.7 192.7,509.3 188.1,505.9 193.8,505.8" fill="#4fb27a" fill-opacity="0.92"/>
<polyline points="67.6,351.3 310.3,351.4" fill="none" stroke="#707070" stroke-width="1.2" stroke-linejoin="round"/>
<polyline points="67.6,352.2 100.0,352.5 140.0,353.0 185.0,354.0 230.0,355.5 270.0,356.8 310.2,358.3" fill="none" stroke="#3333ff" stroke-width="1" stroke-linejoin="round"/>
<path d="M67.60,411.60 C69.00,411.00 73.40,409.07 76.00,408.00 C78.60,406.93 80.47,406.03 83.20,405.20 C85.93,404.37 89.35,403.45 92.40,403.00 C95.45,402.55 98.47,402.43 101.50,402.50 C104.53,402.57 107.57,402.80 110.60,403.40 C113.63,404.00 116.65,404.58 119.70,406.10 C122.75,407.62 125.85,410.07 128.90,412.50 C131.95,414.93 135.27,417.95 138.00,420.70 C140.73,423.45 143.17,426.78 145.30,429.00 C147.43,431.22 149.13,432.95 150.80,434.00 C152.47,435.05 153.78,435.38 155.30,435.30 C156.82,435.22 157.92,435.02 159.90,433.50 C161.88,431.98 164.77,428.63 167.20,426.20 C169.63,423.77 172.07,421.18 174.50,418.90 C176.93,416.62 179.55,414.28 181.80,412.50 C184.05,410.72 185.88,409.48 188.00,408.20 C190.12,406.92 191.83,406.17 194.50,404.80 C197.17,403.43 200.83,401.37 204.00,400.00 C207.17,398.63 210.33,397.55 213.50,396.60 C216.67,395.65 219.53,395.15 223.00,394.30 C226.47,393.45 230.52,392.28 234.30,391.50 C238.08,390.72 241.27,390.23 245.70,389.60 C250.13,388.97 255.83,388.23 260.90,387.70 C265.97,387.17 271.03,386.82 276.10,386.40 C281.17,385.98 285.62,385.55 291.30,385.20 C296.98,384.85 307.05,384.45 310.20,384.30" fill="none" stroke="#ff33ff" stroke-width="1" stroke-linejoin="round"/>
<polyline points="67.6,361.8 69.5,360.5 71.4,357.8 73.7,356.2 76.0,356.3 79.6,359.2 81.4,358.8 83.2,357.0 85.1,356.7 86.9,358.1 89.7,361.5 92.4,363.2 96.0,368.4 97.8,366.6 99.7,366.0 102.4,363.2 104.2,364.7 107.0,359.6 109.7,364.2 111.5,372.4 113.4,379.7 115.2,389.7 117.0,395.2 119.7,397.9 122.5,392.4 125.2,389.7 127.1,389.0 128.9,387.0 131.6,389.7 133.4,387.9 136.2,392.4 138.0,392.4 139.8,394.3 141.7,392.7 143.5,389.7 147.1,386.1 149.4,383.1 151.7,381.5 153.9,381.1 156.2,378.8 158.9,377.4 161.7,377.5 164.4,379.1 167.2,378.8 169.9,380.3 172.7,383.3 175.4,386.5 178.1,387.9 179.9,386.3 181.8,386.1 185.4,385.1 188.8,390.5 192.2,400.0 192.9,401.5 194.7,403.3 195.5,407.3 196.2,414.6 197.3,417.2 199.1,417.5 200.2,423.4 201.3,427.0 202.8,425.5 203.9,421.9 205.3,425.2 206.4,424.1 208.2,418.6 209.7,421.9 210.8,425.5 212.3,421.2 213.4,423.4 214.5,431.4 215.5,432.1 217.4,428.1 219.2,433.2 220.7,427.7 222.1,424.1 224.3,425.2 226.5,420.4 228.0,421.9 229.8,420.4 231.6,419.0 233.8,421.5 236.4,417.5 238.5,420.8 240.0,419.7 241.9,416.2 244.8,417.2 247.6,415.2 250.4,413.1 253.3,412.9 255.8,412.9 258.4,410.4 260.9,410.5 263.4,411.7 266.0,410.5 268.5,411.4 270.4,412.8 272.3,412.4 275.1,410.1 278.0,409.5 280.5,408.7 283.1,405.8 285.6,404.8 288.1,405.9 290.7,404.3 293.2,405.3 295.7,406.2 298.2,404.3 300.7,405.3 303.1,405.7 305.4,403.4 307.8,404.6 310.2,403.4" fill="none" stroke="#ff2a2a" stroke-width="1" stroke-linejoin="round"/>
<polyline points="67.6,376.9 69.9,376.1 72.3,374.2 74.2,373.2 76.0,373.3 78.2,375.3 80.5,376.0 82.8,374.6 85.1,374.2 87.3,375.6 89.6,376.0 91.9,378.1 94.2,381.5 97.8,386.1 99.7,385.9 101.5,384.2 105.1,381.5 107.9,382.4 110.6,388.8 113.4,398.8 116.1,403.4 118.8,406.1 120.7,404.0 122.5,403.4 125.2,397.9 127.5,397.7 129.8,396.1 133.4,397.9 135.2,398.2 137.1,399.6 140.7,403.4 143.0,403.2 145.3,401.6 148.9,398.8 151.7,397.1 154.4,396.5 156.2,396.8 158.1,396.1 161.7,397.9 164.0,400.1 166.3,403.4 168.6,407.6 170.8,410.7 172.7,413.6 174.5,418.0 177.0,424.0 178.5,429.5 180.6,425.5 183.0,434.6 185.6,430.0 187.1,438.0 188.6,445.6 190.6,446.6 192.6,470.3 195.1,505.4 195.6,509.0 197.1,480.3 199.1,465.2 202.2,449.1 204.2,449.6 206.2,444.6 208.7,445.1 210.1,440.0 211.2,434.3 213.4,432.5 214.8,430.7 215.5,422.6 217.0,419.7 218.8,418.2 220.7,413.9 222.1,411.3 224.3,410.2 226.5,408.0 228.7,408.4 230.9,406.6 233.1,407.3 235.6,405.5 238.2,405.8 240.0,405.5 241.9,403.4 244.4,403.4 247.0,401.9 249.5,401.9 252.0,401.9 254.6,400.6 257.1,400.4 259.6,400.6 262.2,399.7 264.7,400.0 267.2,400.1 269.8,398.9 272.3,399.1 274.8,399.1 277.4,397.9 279.9,397.8 282.4,397.6 285.0,396.1 287.5,395.9 290.0,396.1 292.6,395.2 295.1,395.3 297.6,395.7 300.1,395.0 302.6,395.3 305.1,395.5 307.7,394.2 310.2,394.3" fill="none" stroke="#2f9a2f" stroke-width="1" stroke-linejoin="round"/>
<line x1="216.90" y1="454.00" x2="236.50" y2="454.00" stroke="#999999" stroke-width="2" />
<text id="st1" x="0" y="0" font-family='"Liberation Serif", serif' font-size="9.075" font-weight="normal" text-anchor="start" transform="translate(238.4,457.135) scale(0.9253,1)"><tspan>Er</tspan><tspan dy="2.54" font-size="4.99">2</tspan><tspan dy="-2.54">Zr</tspan><tspan dy="2.54" font-size="4.99">2</tspan><tspan dy="-2.54">O</tspan><tspan dy="2.54" font-size="4.99">7</tspan><tspan dy="-2.54"> 0.4 mm</tspan></text>
<line x1="216.90" y1="467.50" x2="236.50" y2="467.50" stroke="#ff2a2a" stroke-width="1" />
<text id="st2" x="0" y="0" font-family='"Liberation Serif", serif' font-size="9.075" font-weight="normal" text-anchor="start" transform="translate(238.4,470.635) scale(0.9234,1)"><tspan>Er</tspan><tspan dy="2.54" font-size="4.99">2</tspan><tspan dy="-2.54">Zr</tspan><tspan dy="2.54" font-size="4.99">2</tspan><tspan dy="-2.54">O</tspan><tspan dy="2.54" font-size="4.99">7</tspan><tspan dy="-2.54"> 1.132 mm</tspan></text>
<line x1="216.90" y1="480.50" x2="236.50" y2="480.50" stroke="#3333ff" stroke-width="1" />
<text id="st3" x="0" y="0" font-family='"Liberation Serif", serif' font-size="9.075" font-weight="normal" text-anchor="start" transform="translate(238.4,483.635) scale(0.9230,1)"><tspan>Gd</tspan><tspan dy="2.54" font-size="4.99">2</tspan><tspan dy="-2.54">Zr</tspan><tspan dy="2.54" font-size="4.99">2</tspan><tspan dy="-2.54">O</tspan><tspan dy="2.54" font-size="4.99">7</tspan><tspan dy="-2.54"> 0.732 mm</tspan></text>
<line x1="216.90" y1="494.00" x2="236.50" y2="494.00" stroke="#ff88ff" stroke-width="2" />
<text id="st4" x="0" y="0" font-family='"Liberation Serif", serif' font-size="9.075" font-weight="normal" text-anchor="start" transform="translate(238.4,497.135) scale(0.9230,1)"><tspan>Gd</tspan><tspan dy="2.54" font-size="4.99">2</tspan><tspan dy="-2.54">Zr</tspan><tspan dy="2.54" font-size="4.99">2</tspan><tspan dy="-2.54">O</tspan><tspan dy="2.54" font-size="4.99">7</tspan><tspan dy="-2.54"> 1.132 mm</tspan></text>
<line x1="216.90" y1="507.50" x2="236.50" y2="507.50" stroke="#2f9a2f" stroke-width="1" />
<text id="st5" x="0" y="0" font-family='"Liberation Serif", serif' font-size="9.075" font-weight="normal" text-anchor="start" transform="translate(238.4,510.635) scale(0.9375,1)"><tspan>Er</tspan><tspan dy="2.54" font-size="4.99">2</tspan><tspan dy="-2.54">Zr</tspan><tspan dy="2.54" font-size="4.99">2</tspan><tspan dy="-2.54">O</tspan><tspan dy="2.54" font-size="4.99">7</tspan><tspan dy="-2.54">/Gd</tspan><tspan dy="2.54" font-size="4.99">2</tspan><tspan dy="-2.54">Zr</tspan><tspan dy="2.54" font-size="4.99">2</tspan><tspan dy="-2.54">O</tspan><tspan dy="2.54" font-size="4.99">7</tspan></text>
<text id="st6" x="0" y="0" font-family='"Liberation Serif", serif' font-size="9.075" font-weight="normal" text-anchor="start" transform="translate(240.7,524) scale(0.9104,1)"><tspan>0.4 mm/0.732 mm</tspan></text>
<rect x="67.6" y="578.45" width="242.70000000000002" height="34.78" fill="#fbe7c9"/>
<line x1="67.60" y1="613.23" x2="310.30" y2="613.23" stroke="#e8d8c0" stroke-width="0.8" stroke-dasharray="2 2"/>
<rect x="67.6" y="575.3" width="242.70000000000002" height="179.9000000000001" fill="none" stroke="#6a6a6a" stroke-width="1.2"/>
<line x1="113.84" y1="755.2" x2="113.84" y2="758.7" stroke="#6a6a6a" stroke-width="1"/>
<text x="113.84" y="768.8" font-family='"Liberation Sans", sans-serif' font-size="9.9" text-anchor="middle" fill="#222">9</text>
<line x1="171.64" y1="755.2" x2="171.64" y2="758.7" stroke="#6a6a6a" stroke-width="1"/>
<text x="171.64" y="768.8" font-family='"Liberation Sans", sans-serif' font-size="9.9" text-anchor="middle" fill="#222">10</text>
<line x1="229.44" y1="755.2" x2="229.44" y2="758.7" stroke="#6a6a6a" stroke-width="1"/>
<text x="229.44" y="768.8" font-family='"Liberation Sans", sans-serif' font-size="9.9" text-anchor="middle" fill="#222">11</text>
<line x1="287.24" y1="755.2" x2="287.24" y2="758.7" stroke="#6a6a6a" stroke-width="1"/>
<text x="287.24" y="768.8" font-family='"Liberation Sans", sans-serif' font-size="9.9" text-anchor="middle" fill="#222">12</text>
<line x1="84.94" y1="755.2" x2="84.94" y2="757.2" stroke="#6a6a6a" stroke-width="1"/>
<line x1="142.74" y1="755.2" x2="142.74" y2="757.2" stroke="#6a6a6a" stroke-width="1"/>
<line x1="200.54" y1="755.2" x2="200.54" y2="757.2" stroke="#6a6a6a" stroke-width="1"/>
<line x1="258.34" y1="755.2" x2="258.34" y2="757.2" stroke="#6a6a6a" stroke-width="1"/>
<line x1="64.1" y1="752.35" x2="67.6" y2="752.35" stroke="#6a6a6a" stroke-width="1"/>
<text x="62.5" y="755.05" font-family='"Liberation Sans", sans-serif' font-size="9.9" text-anchor="end" fill="#222">0.0</text>
<line x1="64.1" y1="734.96" x2="67.6" y2="734.96" stroke="#6a6a6a" stroke-width="1"/>
<text x="62.5" y="737.66" font-family='"Liberation Sans", sans-serif' font-size="9.9" text-anchor="end" fill="#222">0.1</text>
<line x1="64.1" y1="717.57" x2="67.6" y2="717.57" stroke="#6a6a6a" stroke-width="1"/>
<text x="62.5" y="720.27" font-family='"Liberation Sans", sans-serif' font-size="9.9" text-anchor="end" fill="#222">0.2</text>
<line x1="64.1" y1="700.18" x2="67.6" y2="700.18" stroke="#6a6a6a" stroke-width="1"/>
<text x="62.5" y="702.88" font-family='"Liberation Sans", sans-serif' font-size="9.9" text-anchor="end" fill="#222">0.3</text>
<line x1="64.1" y1="682.79" x2="67.6" y2="682.79" stroke="#6a6a6a" stroke-width="1"/>
<text x="62.5" y="685.49" font-family='"Liberation Sans", sans-serif' font-size="9.9" text-anchor="end" fill="#222">0.4</text>
<line x1="64.1" y1="665.40" x2="67.6" y2="665.40" stroke="#6a6a6a" stroke-width="1"/>
<text x="62.5" y="668.10" font-family='"Liberation Sans", sans-serif' font-size="9.9" text-anchor="end" fill="#222">0.5</text>
<line x1="64.1" y1="648.01" x2="67.6" y2="648.01" stroke="#6a6a6a" stroke-width="1"/>
<text x="62.5" y="650.71" font-family='"Liberation Sans", sans-serif' font-size="9.9" text-anchor="end" fill="#222">0.6</text>
<line x1="64.1" y1="630.62" x2="67.6" y2="630.62" stroke="#6a6a6a" stroke-width="1"/>
<text x="62.5" y="633.32" font-family='"Liberation Sans", sans-serif' font-size="9.9" text-anchor="end" fill="#222">0.7</text>
<line x1="64.1" y1="613.23" x2="67.6" y2="613.23" stroke="#6a6a6a" stroke-width="1"/>
<text x="62.5" y="615.93" font-family='"Liberation Sans", sans-serif' font-size="9.9" text-anchor="end" fill="#222">0.8</text>
<line x1="64.1" y1="595.84" x2="67.6" y2="595.84" stroke="#6a6a6a" stroke-width="1"/>
<text x="62.5" y="598.54" font-family='"Liberation Sans", sans-serif' font-size="9.9" text-anchor="end" fill="#222">0.9</text>
<line x1="64.1" y1="578.45" x2="67.6" y2="578.45" stroke="#6a6a6a" stroke-width="1"/>
<text x="62.5" y="581.15" font-family='"Liberation Sans", sans-serif' font-size="9.9" text-anchor="end" fill="#222">1.0</text>
<line x1="65.6" y1="743.65" x2="67.6" y2="743.65" stroke="#6a6a6a" stroke-width="1"/>
<line x1="65.6" y1="726.26" x2="67.6" y2="726.26" stroke="#6a6a6a" stroke-width="1"/>
<line x1="65.6" y1="708.88" x2="67.6" y2="708.88" stroke="#6a6a6a" stroke-width="1"/>
<line x1="65.6" y1="691.49" x2="67.6" y2="691.49" stroke="#6a6a6a" stroke-width="1"/>
<line x1="65.6" y1="674.10" x2="67.6" y2="674.10" stroke="#6a6a6a" stroke-width="1"/>
<line x1="65.6" y1="656.71" x2="67.6" y2="656.71" stroke="#6a6a6a" stroke-width="1"/>
<line x1="65.6" y1="639.32" x2="67.6" y2="639.32" stroke="#6a6a6a" stroke-width="1"/>
<line x1="65.6" y1="621.92" x2="67.6" y2="621.92" stroke="#6a6a6a" stroke-width="1"/>
<line x1="65.6" y1="604.53" x2="67.6" y2="604.53" stroke="#6a6a6a" stroke-width="1"/>
<line x1="65.6" y1="587.14" x2="67.6" y2="587.14" stroke="#6a6a6a" stroke-width="1"/>
<line x1="68.20" y1="578.45" x2="309.70" y2="578.45" stroke="#5a5a5a" stroke-width="0.95" stroke-dasharray="6.5 2.8 1.2 3.25"/>
<polygon points="195.6,570.9 197.4,576.3 203.1,576.4 198.5,579.8 200.2,585.2 195.6,581.9 191.0,585.2 192.7,579.8 188.1,576.4 193.8,576.3" fill="#4fb27a" fill-opacity="0.92"/>
<polyline points="67.6,751.6 150.0,751.5 230.0,750.5 310.3,750.2" fill="none" stroke="#333333" stroke-width="1" stroke-linejoin="round"/>
<path d="M67.60,743.40 C76.33,743.37 107.62,743.38 120.00,743.20 C132.38,743.02 135.57,742.78 141.90,742.30 C148.23,741.82 151.92,741.27 158.00,740.30 C164.08,739.33 170.13,737.97 178.40,736.50 C186.67,735.03 197.87,732.97 207.60,731.50 C217.33,730.03 227.07,728.95 236.80,727.70 C246.53,726.45 256.27,725.07 266.00,724.00 C275.73,722.93 287.82,721.98 295.20,721.30 C302.58,720.62 307.78,720.13 310.30,719.90" fill="none" stroke="#3333ff" stroke-width="1" stroke-linejoin="round"/>
<path d="M67.60,593.20 C70.20,593.90 77.55,596.03 83.20,597.40 C88.85,598.77 96.02,601.10 101.50,601.40 C106.98,601.70 111.53,600.78 116.10,599.20 C120.67,597.62 124.65,594.18 128.90,591.90 C133.15,589.62 137.35,587.02 141.60,585.50 C145.85,583.98 150.43,582.88 154.40,582.80 C158.37,582.72 161.45,583.78 165.40,585.00 C169.35,586.22 174.83,588.68 178.10,590.10 C181.37,591.52 182.27,591.98 185.00,593.50 C187.73,595.02 191.33,597.32 194.50,599.20 C197.67,601.08 200.83,603.07 204.00,604.80 C207.17,606.53 210.33,608.17 213.50,609.60 C216.67,611.03 219.53,612.13 223.00,613.40 C226.47,614.67 230.20,616.03 234.30,617.20 C238.40,618.37 243.17,619.45 247.60,620.40 C252.03,621.35 256.15,622.08 260.90,622.90 C265.65,623.72 271.03,624.52 276.10,625.30 C281.17,626.08 285.62,626.65 291.30,627.60 C296.98,628.55 307.05,630.43 310.20,631.00" fill="none" stroke="#ff33ff" stroke-width="1" stroke-linejoin="round"/>
<polyline points="67.6,705.5 68.9,706.4 70.0,711.9 71.6,720.2 73.8,723.0 75.5,723.8 76.6,730.1 77.7,720.7 78.8,711.4 80.5,714.1 81.6,713.6 83.8,725.7 84.9,721.9 86.0,721.6 87.1,714.1 89.3,710.2 91.5,694.2 93.7,692.0 96.0,676.5 97.1,677.6 98.2,686.5 99.5,683.7 101.5,696.4 103.1,704.2 104.2,697.5 105.3,699.2 106.8,714.1 108.1,703.1 109.2,689.8 110.3,690.3 111.4,676.5 112.6,654.1 112.6,639.0 113.9,639.7 115.3,627.9 116.6,610.1 118.2,610.4 119.2,608.8 120.8,606.5 122.2,607.8 123.5,616.7 124.5,620.3 126.1,617.7 127.7,622.6 129.4,625.2 131.4,617.7 133.3,624.6 134.6,621.3 136.3,612.7 137.3,612.7 138.6,618.3 140.6,610.4 141.5,612.4 143.2,619.0 145.2,615.4 146.5,621.3 147.8,627.2 149.8,627.9 151.6,635.7 152.6,638.7 154.3,637.7 155.3,639.7 156.6,646.2 157.6,647.2 159.2,644.6 160.5,646.9 161.8,650.2 163.5,646.9 164.8,646.6 166.4,648.5 167.7,645.0 169.0,638.7 171.0,639.0 172.3,635.7 173.3,627.9 174.6,627.2 176.0,630.2 177.3,624.9 178.6,618.0 179.6,621.3 180.6,628.5 182.2,623.9 183.5,619.3 184.5,623.9 185.5,629.8 186.8,621.3 188.1,616.0 189.8,617.3 190.4,618.0 191.4,608.1 192.7,601.6 195.0,599.6 196.4,590.6 199.2,585.9 202.1,584.9 204.0,586.5 205.9,586.8 207.8,585.6 209.7,585.9 212.1,585.7 214.4,584.0 216.8,583.2 219.2,584.0 221.7,585.4 224.2,584.5 226.7,585.9 229.2,587.0 231.8,586.5 234.3,587.8 236.8,588.9 239.4,587.7 241.9,588.7 244.3,590.2 246.7,589.6 249.0,591.5 251.4,591.6 253.8,591.5 256.1,593.2 258.5,592.4 260.9,593.5 263.2,593.8 265.5,592.6 267.7,593.5 270.0,591.9 272.3,592.5 274.8,594.5 277.4,594.5 279.9,596.3 282.4,597.9 285.0,597.4 287.5,598.8 290.0,599.3 292.6,597.9 295.1,598.2 297.6,598.9 300.1,597.8 302.6,598.8 305.1,599.8 307.7,599.1 310.2,600.1" fill="none" stroke="#ff2a2a" stroke-width="1" stroke-linejoin="round"/>
<polyline points="67.6,650.5 68.6,650.3 71.6,657.7 73.8,658.0 76.1,661.0 78.8,652.2 80.5,652.8 82.1,651.1 83.8,655.5 86.0,658.3 88.2,655.0 90.4,650.0 92.4,640.3 95.1,630.2 97.8,624.7 99.7,626.6 103.3,634.8 105.2,636.8 107.0,636.6 109.7,624.7 110.0,623.9 111.3,614.7 112.6,603.5 114.3,606.8 116.2,597.6 117.6,596.3 119.2,598.3 121.8,599.6 124.1,606.2 126.1,605.5 127.7,606.8 129.4,609.1 131.7,604.5 133.7,607.2 135.3,602.2 136.9,600.6 138.6,603.2 140.6,598.9 143.2,602.2 145.5,600.3 147.8,604.9 149.8,605.5 152.6,608.8 154.9,607.5 157.2,610.1 159.9,606.5 162.2,607.5 164.5,602.6 167.4,601.2 169.7,595.0 172.1,590.0 174.5,587.3 177.2,586.5 180.0,583.7 182.7,582.0 185.4,581.9 188.1,581.8 190.7,580.2 193.1,579.2 195.4,579.2 197.6,580.0 199.9,579.3 202.1,580.2 204.9,581.1 207.8,581.1 210.7,582.0 213.5,584.0 215.4,586.3 217.3,587.8 220.2,589.6 223.0,592.5 225.3,594.0 227.7,593.9 230.1,595.8 232.4,596.3 234.8,596.5 237.2,598.2 239.5,598.0 241.9,599.2 244.3,600.5 246.7,600.2 249.0,601.9 251.4,602.0 253.8,602.0 256.1,603.5 258.5,603.0 260.9,603.9 263.3,604.4 265.6,603.6 268.0,604.9 270.4,604.5 272.8,604.6 275.1,606.0 277.5,605.7 279.9,606.7 282.2,607.7 284.5,607.2 286.7,608.7 289.0,608.0 291.3,609.0 293.6,609.6 295.8,608.9 298.1,610.0 300.3,609.2 302.6,610.0 305.1,611.1 307.7,610.5 310.2,611.5" fill="none" stroke="#2f9a2f" stroke-width="1" stroke-linejoin="round"/>
<line x1="203.80" y1="633.50" x2="225.10" y2="633.50" stroke="#222" stroke-width="1" />
<text id="st7" x="0" y="0" font-family='"Liberation Serif", serif' font-size="10.340" font-weight="normal" text-anchor="start" transform="translate(228.3,637.072) scale(0.9226,1)"><tspan>Er</tspan><tspan dy="2.90" font-size="5.69">2</tspan><tspan dy="-2.90">Zr</tspan><tspan dy="2.90" font-size="5.69">2</tspan><tspan dy="-2.90">O</tspan><tspan dy="2.90" font-size="5.69">7</tspan><tspan dy="-2.90"> 0.4 mm</tspan></text>
<line x1="203.80" y1="648.50" x2="225.10" y2="648.50" stroke="#ff2a2a" stroke-width="1" />
<text id="st8" x="0" y="0" font-family='"Liberation Serif", serif' font-size="10.340" font-weight="normal" text-anchor="start" transform="translate(228.3,652.072) scale(0.9207,1)"><tspan>Er</tspan><tspan dy="2.90" font-size="5.69">2</tspan><tspan dy="-2.90">Zr</tspan><tspan dy="2.90" font-size="5.69">2</tspan><tspan dy="-2.90">O</tspan><tspan dy="2.90" font-size="5.69">7</tspan><tspan dy="-2.90"> 1.132 mm</tspan></text>
<line x1="203.80" y1="664.00" x2="225.10" y2="664.00" stroke="#8080ff" stroke-width="2" />
<text id="st9" x="0" y="0" font-family='"Liberation Serif", serif' font-size="10.340" font-weight="normal" text-anchor="start" transform="translate(228.3,667.572) scale(0.9202,1)"><tspan>Gd</tspan><tspan dy="2.90" font-size="5.69">2</tspan><tspan dy="-2.90">Zr</tspan><tspan dy="2.90" font-size="5.69">2</tspan><tspan dy="-2.90">O</tspan><tspan dy="2.90" font-size="5.69">7</tspan><tspan dy="-2.90"> 0.732 mm</tspan></text>
<line x1="203.80" y1="679.50" x2="225.10" y2="679.50" stroke="#ff33ff" stroke-width="1" />
<text id="st10" x="0" y="0" font-family='"Liberation Serif", serif' font-size="10.340" font-weight="normal" text-anchor="start" transform="translate(228.3,683.072) scale(0.9202,1)"><tspan>Gd</tspan><tspan dy="2.90" font-size="5.69">2</tspan><tspan dy="-2.90">Zr</tspan><tspan dy="2.90" font-size="5.69">2</tspan><tspan dy="-2.90">O</tspan><tspan dy="2.90" font-size="5.69">7</tspan><tspan dy="-2.90"> 1.132 mm</tspan></text>
<line x1="203.80" y1="694.50" x2="225.10" y2="694.50" stroke="#2f9a2f" stroke-width="1" />
<text id="st11" x="0" y="0" font-family='"Liberation Serif", serif' font-size="10.340" font-weight="normal" text-anchor="start" transform="translate(228.3,698.072) scale(0.9346,1)"><tspan>Er</tspan><tspan dy="2.90" font-size="5.69">2</tspan><tspan dy="-2.90">Zr</tspan><tspan dy="2.90" font-size="5.69">2</tspan><tspan dy="-2.90">O</tspan><tspan dy="2.90" font-size="5.69">7</tspan><tspan dy="-2.90">/Gd</tspan><tspan dy="2.90" font-size="5.69">2</tspan><tspan dy="-2.90">Zr</tspan><tspan dy="2.90" font-size="5.69">2</tspan><tspan dy="-2.90">O</tspan><tspan dy="2.90" font-size="5.69">7</tspan></text>
<text id="st12" x="0" y="0" font-family='"Liberation Serif", serif' font-size="10.340" font-weight="normal" text-anchor="start" transform="translate(231.8,713.6) scale(0.9077,1)"><tspan>0.4 mm/0.732 mm</tspan></text>
<rect x="393.1" y="348.6" width="241.39999999999998" height="180.0" fill="none" stroke="#6a6a6a" stroke-width="1.2"/>
<line x1="418.96" y1="528.6" x2="418.96" y2="532.1" stroke="#6a6a6a" stroke-width="1"/>
<text x="418.96" y="543" font-family='"Liberation Sans", sans-serif' font-size="9.9" text-anchor="middle" fill="#222">13</text>
<line x1="462.06" y1="528.6" x2="462.06" y2="532.1" stroke="#6a6a6a" stroke-width="1"/>
<text x="462.06" y="543" font-family='"Liberation Sans", sans-serif' font-size="9.9" text-anchor="middle" fill="#222">14</text>
<line x1="505.16" y1="528.6" x2="505.16" y2="532.1" stroke="#6a6a6a" stroke-width="1"/>
<text x="505.16" y="543" font-family='"Liberation Sans", sans-serif' font-size="9.9" text-anchor="middle" fill="#222">15</text>
<line x1="548.26" y1="528.6" x2="548.26" y2="532.1" stroke="#6a6a6a" stroke-width="1"/>
<text x="548.26" y="543" font-family='"Liberation Sans", sans-serif' font-size="9.9" text-anchor="middle" fill="#222">16</text>
<line x1="591.36" y1="528.6" x2="591.36" y2="532.1" stroke="#6a6a6a" stroke-width="1"/>
<text x="591.36" y="543" font-family='"Liberation Sans", sans-serif' font-size="9.9" text-anchor="middle" fill="#222">17</text>
<line x1="634.46" y1="528.6" x2="634.46" y2="532.1" stroke="#6a6a6a" stroke-width="1"/>
<text x="634.46" y="543" font-family='"Liberation Sans", sans-serif' font-size="9.9" text-anchor="middle" fill="#222">18</text>
<line x1="397.41" y1="528.6" x2="397.41" y2="530.6" stroke="#6a6a6a" stroke-width="1"/>
<line x1="440.51" y1="528.6" x2="440.51" y2="530.6" stroke="#6a6a6a" stroke-width="1"/>
<line x1="483.61" y1="528.6" x2="483.61" y2="530.6" stroke="#6a6a6a" stroke-width="1"/>
<line x1="526.71" y1="528.6" x2="526.71" y2="530.6" stroke="#6a6a6a" stroke-width="1"/>
<line x1="569.81" y1="528.6" x2="569.81" y2="530.6" stroke="#6a6a6a" stroke-width="1"/>
<line x1="612.91" y1="528.6" x2="612.91" y2="530.6" stroke="#6a6a6a" stroke-width="1"/>
<line x1="389.6" y1="350.60" x2="393.1" y2="350.60" stroke="#6a6a6a" stroke-width="1"/>
<text x="387.6" y="353.30" font-family='"Liberation Sans", sans-serif' font-size="9.9" text-anchor="end" fill="#222">0</text>
<line x1="389.6" y1="372.85" x2="393.1" y2="372.85" stroke="#6a6a6a" stroke-width="1"/>
<text x="387.6" y="375.55" font-family='"Liberation Sans", sans-serif' font-size="9.9" text-anchor="end" fill="#222">-5</text>
<line x1="389.6" y1="395.10" x2="393.1" y2="395.10" stroke="#6a6a6a" stroke-width="1"/>
<text x="387.6" y="397.80" font-family='"Liberation Sans", sans-serif' font-size="9.9" text-anchor="end" fill="#222">-10</text>
<line x1="389.6" y1="417.35" x2="393.1" y2="417.35" stroke="#6a6a6a" stroke-width="1"/>
<text x="387.6" y="420.05" font-family='"Liberation Sans", sans-serif' font-size="9.9" text-anchor="end" fill="#222">-15</text>
<line x1="389.6" y1="439.60" x2="393.1" y2="439.60" stroke="#6a6a6a" stroke-width="1"/>
<text x="387.6" y="442.30" font-family='"Liberation Sans", sans-serif' font-size="9.9" text-anchor="end" fill="#222">-20</text>
<line x1="389.6" y1="461.85" x2="393.1" y2="461.85" stroke="#6a6a6a" stroke-width="1"/>
<text x="387.6" y="464.55" font-family='"Liberation Sans", sans-serif' font-size="9.9" text-anchor="end" fill="#222">-25</text>
<line x1="389.6" y1="484.10" x2="393.1" y2="484.10" stroke="#6a6a6a" stroke-width="1"/>
<text x="387.6" y="486.80" font-family='"Liberation Sans", sans-serif' font-size="9.9" text-anchor="end" fill="#222">-30</text>
<line x1="389.6" y1="506.35" x2="393.1" y2="506.35" stroke="#6a6a6a" stroke-width="1"/>
<text x="387.6" y="509.05" font-family='"Liberation Sans", sans-serif' font-size="9.9" text-anchor="end" fill="#222">-35</text>
<line x1="389.6" y1="528.60" x2="393.1" y2="528.60" stroke="#6a6a6a" stroke-width="1"/>
<text x="387.6" y="531.30" font-family='"Liberation Sans", sans-serif' font-size="9.9" text-anchor="end" fill="#222">-40</text>
<line x1="391.1" y1="361.73" x2="393.1" y2="361.73" stroke="#6a6a6a" stroke-width="1"/>
<line x1="391.1" y1="383.98" x2="393.1" y2="383.98" stroke="#6a6a6a" stroke-width="1"/>
<line x1="391.1" y1="406.23" x2="393.1" y2="406.23" stroke="#6a6a6a" stroke-width="1"/>
<line x1="391.1" y1="428.48" x2="393.1" y2="428.48" stroke="#6a6a6a" stroke-width="1"/>
<line x1="391.1" y1="450.73" x2="393.1" y2="450.73" stroke="#6a6a6a" stroke-width="1"/>
<line x1="391.1" y1="472.98" x2="393.1" y2="472.98" stroke="#6a6a6a" stroke-width="1"/>
<line x1="391.1" y1="495.23" x2="393.1" y2="495.23" stroke="#6a6a6a" stroke-width="1"/>
<line x1="391.1" y1="517.48" x2="393.1" y2="517.48" stroke="#6a6a6a" stroke-width="1"/>
<line x1="393.40" y1="394.50" x2="630.00" y2="394.50" stroke="#555" stroke-width="1.3" stroke-dasharray="7 8.3"/>
<polygon points="490.1,471.3 491.9,476.7 497.6,476.8 493.0,480.2 494.7,485.6 490.1,482.3 485.5,485.6 487.2,480.2 482.6,476.8 488.3,476.7" fill="#4fb27a" fill-opacity="0.92"/>
<polygon points="614.4,479.5 616.2,484.9 621.9,485.0 617.3,488.4 619.0,493.8 614.4,490.5 609.8,493.8 611.5,488.4 606.9,485.0 612.6,484.9" fill="#4fb27a" fill-opacity="0.92"/>
<polyline points="393.1,351.4 634.5,351.4" fill="none" stroke="#333333" stroke-width="1.2" stroke-linejoin="round"/>
<path d="M393.10,359.40 C398.92,358.85 415.87,356.87 428.00,356.10 C440.13,355.33 450.57,355.17 465.90,354.80 C481.23,354.43 500.98,354.12 520.00,353.90 C539.02,353.68 560.92,353.63 580.00,353.50 C599.08,353.37 625.42,353.17 634.50,353.10" fill="none" stroke="#3333ff" stroke-width="1" stroke-linejoin="round"/>
<path d="M393.10,379.50 C395.75,380.98 403.82,385.82 409.00,388.40 C414.18,390.98 419.47,392.95 424.20,395.00 C428.93,397.05 433.62,399.27 437.40,400.70 C441.18,402.13 443.73,403.92 446.90,403.60 C450.07,403.28 452.60,401.02 456.40,398.80 C460.20,396.58 464.95,392.98 469.70,390.30 C474.45,387.62 479.83,384.92 484.90,382.70 C489.97,380.48 494.25,378.58 500.10,377.00 C505.95,375.42 513.35,374.20 520.00,373.20 C526.65,372.20 533.33,371.78 540.00,371.00 C546.67,370.22 553.33,369.33 560.00,368.50 C566.67,367.67 573.33,366.78 580.00,366.00 C586.67,365.22 593.33,364.50 600.00,363.80 C606.67,363.10 614.25,362.35 620.00,361.80 C625.75,361.25 632.08,360.72 634.50,360.50" fill="none" stroke="#ff33ff" stroke-width="1.1" stroke-linejoin="round"/>
<path d="M393.10,381.40 C395.75,382.72 403.82,387.03 409.00,389.30 C414.18,391.57 419.47,393.10 424.20,395.00 C428.93,396.90 433.62,399.18 437.40,400.70 C441.18,402.22 443.73,402.83 446.90,404.10 C450.07,405.37 453.23,406.97 456.40,408.30 C459.57,409.63 463.37,411.30 465.90,412.10 C468.43,412.90 469.70,413.17 471.60,413.10 C473.50,413.03 475.08,413.13 477.30,411.70 C479.52,410.27 482.05,407.28 484.90,404.50 C487.75,401.72 491.23,397.68 494.40,395.00 C497.57,392.32 500.75,390.30 503.90,388.40 C507.05,386.50 510.62,384.87 513.30,383.60 C515.98,382.33 517.22,381.65 520.00,380.80 C522.78,379.95 526.67,379.07 530.00,378.50 C533.33,377.93 536.17,377.53 540.00,377.40 C543.83,377.27 547.17,376.78 553.00,377.70 C558.83,378.62 568.40,381.35 575.00,382.90 C581.60,384.45 588.22,386.27 592.60,387.00 C596.98,387.73 597.80,388.27 601.30,387.30 C604.80,386.33 609.80,383.10 613.60,381.20 C617.40,379.30 620.62,377.37 624.10,375.90 C627.58,374.43 632.77,372.98 634.50,372.40" fill="none" stroke="#ff2a2a" stroke-width="1.1" stroke-linejoin="round"/>
<path d="M393.10,380.80 C395.75,382.07 403.82,386.03 409.00,388.40 C414.18,390.77 419.47,392.78 424.20,395.00 C428.93,397.22 433.62,399.80 437.40,401.70 C441.18,403.60 443.73,404.35 446.90,406.40 C450.07,408.45 453.97,411.65 456.40,414.00 C458.83,416.35 459.62,417.83 461.50,420.50 C463.38,423.17 465.98,427.42 467.70,430.00 C469.42,432.58 470.45,433.95 471.80,436.00 C473.15,438.05 474.60,440.13 475.80,442.30 C477.00,444.47 477.97,446.62 479.00,449.00 C480.03,451.38 481.07,454.18 482.00,456.60 C482.93,459.02 483.75,461.12 484.60,463.50 C485.45,465.88 486.18,468.23 487.10,470.90 C488.02,473.57 489.25,478.65 490.10,479.50 C490.95,480.35 491.38,477.92 492.20,476.00 C493.02,474.08 493.98,470.22 495.00,468.00 C496.02,465.78 496.73,464.95 498.30,462.70 C499.87,460.45 502.45,456.42 504.40,454.50 C506.35,452.58 507.97,451.90 510.00,451.20 C512.03,450.50 514.47,450.25 516.60,450.30 C518.73,450.35 520.10,450.40 522.80,451.50 C525.50,452.60 530.03,455.75 532.80,456.90 C535.57,458.05 536.87,458.72 539.40,458.40 C541.93,458.08 545.00,457.30 548.00,455.00 C551.00,452.70 554.25,448.23 557.40,444.60 C560.55,440.97 563.73,436.52 566.90,433.20 C570.07,429.88 573.38,426.53 576.40,424.70 C579.42,422.87 582.47,422.20 585.00,422.20 C587.53,422.20 589.23,422.38 591.60,424.70 C593.97,427.02 596.98,431.37 599.20,436.10 C601.42,440.83 603.00,446.47 604.90,453.10 C606.80,459.73 609.05,470.25 610.60,475.90 C612.15,481.55 612.93,487.63 614.20,487.00 C615.47,486.37 616.58,477.75 618.20,472.10 C619.82,466.45 622.02,458.78 623.90,453.10 C625.78,447.42 627.75,442.10 629.50,438.00 C631.25,433.90 633.58,430.08 634.40,428.50" fill="none" stroke="#2f9a2f" stroke-width="1.1" stroke-linejoin="round"/>
<line x1="395.10" y1="454.50" x2="413.50" y2="454.50" stroke="#666" stroke-width="1.3" />
<text id="st13" x="0" y="0" font-family='"Liberation Serif", serif' font-size="9.075" font-weight="normal" text-anchor="start" transform="translate(416.2,457.635) scale(0.9253,1)"><tspan>Er</tspan><tspan dy="2.54" font-size="4.99">2</tspan><tspan dy="-2.54">Zr</tspan><tspan dy="2.54" font-size="4.99">2</tspan><tspan dy="-2.54">O</tspan><tspan dy="2.54" font-size="4.99">7</tspan><tspan dy="-2.54"> 0.4 mm</tspan></text>
<line x1="395.10" y1="467.50" x2="413.50" y2="467.50" stroke="#ff2a2a" stroke-width="1" />
<text id="st14" x="0" y="0" font-family='"Liberation Serif", serif' font-size="9.075" font-weight="normal" text-anchor="start" transform="translate(416.2,470.635) scale(0.9234,1)"><tspan>Er</tspan><tspan dy="2.54" font-size="4.99">2</tspan><tspan dy="-2.54">Zr</tspan><tspan dy="2.54" font-size="4.99">2</tspan><tspan dy="-2.54">O</tspan><tspan dy="2.54" font-size="4.99">7</tspan><tspan dy="-2.54"> 1.132 mm</tspan></text>
<line x1="395.10" y1="480.50" x2="413.50" y2="480.50" stroke="#5050ff" stroke-width="1" />
<text id="st15" x="0" y="0" font-family='"Liberation Serif", serif' font-size="9.075" font-weight="normal" text-anchor="start" transform="translate(416.2,483.635) scale(0.9230,1)"><tspan>Gd</tspan><tspan dy="2.54" font-size="4.99">2</tspan><tspan dy="-2.54">Zr</tspan><tspan dy="2.54" font-size="4.99">2</tspan><tspan dy="-2.54">O</tspan><tspan dy="2.54" font-size="4.99">7</tspan><tspan dy="-2.54"> 0.732 mm</tspan></text>
<line x1="395.10" y1="494.50" x2="413.50" y2="494.50" stroke="#ff80ff" stroke-width="1.6" />
<text id="st16" x="0" y="0" font-family='"Liberation Serif", serif' font-size="9.075" font-weight="normal" text-anchor="start" transform="translate(416.2,497.635) scale(0.9230,1)"><tspan>Gd</tspan><tspan dy="2.54" font-size="4.99">2</tspan><tspan dy="-2.54">Zr</tspan><tspan dy="2.54" font-size="4.99">2</tspan><tspan dy="-2.54">O</tspan><tspan dy="2.54" font-size="4.99">7</tspan><tspan dy="-2.54"> 1.132 mm</tspan></text>
<line x1="395.10" y1="507.50" x2="413.50" y2="507.50" stroke="#2f9a2f" stroke-width="1" />
<text id="st17" x="0" y="0" font-family='"Liberation Serif", serif' font-size="9.075" font-weight="normal" text-anchor="start" transform="translate(416.2,510.635) scale(0.9375,1)"><tspan>Er</tspan><tspan dy="2.54" font-size="4.99">2</tspan><tspan dy="-2.54">Zr</tspan><tspan dy="2.54" font-size="4.99">2</tspan><tspan dy="-2.54">O</tspan><tspan dy="2.54" font-size="4.99">7</tspan><tspan dy="-2.54">/Gd</tspan><tspan dy="2.54" font-size="4.99">2</tspan><tspan dy="-2.54">Zr</tspan><tspan dy="2.54" font-size="4.99">2</tspan><tspan dy="-2.54">O</tspan><tspan dy="2.54" font-size="4.99">7</tspan></text>
<text id="st18" x="0" y="0" font-family='"Liberation Serif", serif' font-size="9.075" font-weight="normal" text-anchor="start" transform="translate(418.2,524) scale(0.9104,1)"><tspan>0.4 mm/0.732 mm</tspan></text>
<rect x="393.1" y="578.45" width="241.39999999999998" height="34.78" fill="#fbe7c9"/>
<line x1="393.10" y1="613.23" x2="634.50" y2="613.23" stroke="#e8d8c0" stroke-width="0.8" stroke-dasharray="2 2"/>
<rect x="393.1" y="574.6" width="241.39999999999998" height="180.60000000000002" fill="none" stroke="#6a6a6a" stroke-width="1.2"/>
<line x1="418.96" y1="755.2" x2="418.96" y2="758.7" stroke="#6a6a6a" stroke-width="1"/>
<text x="418.96" y="768.8" font-family='"Liberation Sans", sans-serif' font-size="9.9" text-anchor="middle" fill="#222">13</text>
<line x1="462.06" y1="755.2" x2="462.06" y2="758.7" stroke="#6a6a6a" stroke-width="1"/>
<text x="462.06" y="768.8" font-family='"Liberation Sans", sans-serif' font-size="9.9" text-anchor="middle" fill="#222">14</text>
<line x1="505.16" y1="755.2" x2="505.16" y2="758.7" stroke="#6a6a6a" stroke-width="1"/>
<text x="505.16" y="768.8" font-family='"Liberation Sans", sans-serif' font-size="9.9" text-anchor="middle" fill="#222">15</text>
<line x1="548.26" y1="755.2" x2="548.26" y2="758.7" stroke="#6a6a6a" stroke-width="1"/>
<text x="548.26" y="768.8" font-family='"Liberation Sans", sans-serif' font-size="9.9" text-anchor="middle" fill="#222">16</text>
<line x1="591.36" y1="755.2" x2="591.36" y2="758.7" stroke="#6a6a6a" stroke-width="1"/>
<text x="591.36" y="768.8" font-family='"Liberation Sans", sans-serif' font-size="9.9" text-anchor="middle" fill="#222">17</text>
<line x1="634.46" y1="755.2" x2="634.46" y2="758.7" stroke="#6a6a6a" stroke-width="1"/>
<text x="634.46" y="768.8" font-family='"Liberation Sans", sans-serif' font-size="9.9" text-anchor="middle" fill="#222">18</text>
<line x1="397.41" y1="755.2" x2="397.41" y2="757.2" stroke="#6a6a6a" stroke-width="1"/>
<line x1="440.51" y1="755.2" x2="440.51" y2="757.2" stroke="#6a6a6a" stroke-width="1"/>
<line x1="483.61" y1="755.2" x2="483.61" y2="757.2" stroke="#6a6a6a" stroke-width="1"/>
<line x1="526.71" y1="755.2" x2="526.71" y2="757.2" stroke="#6a6a6a" stroke-width="1"/>
<line x1="569.81" y1="755.2" x2="569.81" y2="757.2" stroke="#6a6a6a" stroke-width="1"/>
<line x1="612.91" y1="755.2" x2="612.91" y2="757.2" stroke="#6a6a6a" stroke-width="1"/>
<line x1="389.6" y1="752.35" x2="393.1" y2="752.35" stroke="#6a6a6a" stroke-width="1"/>
<text x="387.6" y="755.05" font-family='"Liberation Sans", sans-serif' font-size="9.9" text-anchor="end" fill="#222">0.0</text>
<line x1="389.6" y1="734.96" x2="393.1" y2="734.96" stroke="#6a6a6a" stroke-width="1"/>
<text x="387.6" y="737.66" font-family='"Liberation Sans", sans-serif' font-size="9.9" text-anchor="end" fill="#222">0.1</text>
<line x1="389.6" y1="717.57" x2="393.1" y2="717.57" stroke="#6a6a6a" stroke-width="1"/>
<text x="387.6" y="720.27" font-family='"Liberation Sans", sans-serif' font-size="9.9" text-anchor="end" fill="#222">0.2</text>
<line x1="389.6" y1="700.18" x2="393.1" y2="700.18" stroke="#6a6a6a" stroke-width="1"/>
<text x="387.6" y="702.88" font-family='"Liberation Sans", sans-serif' font-size="9.9" text-anchor="end" fill="#222">0.3</text>
<line x1="389.6" y1="682.79" x2="393.1" y2="682.79" stroke="#6a6a6a" stroke-width="1"/>
<text x="387.6" y="685.49" font-family='"Liberation Sans", sans-serif' font-size="9.9" text-anchor="end" fill="#222">0.4</text>
<line x1="389.6" y1="665.40" x2="393.1" y2="665.40" stroke="#6a6a6a" stroke-width="1"/>
<text x="387.6" y="668.10" font-family='"Liberation Sans", sans-serif' font-size="9.9" text-anchor="end" fill="#222">0.5</text>
<line x1="389.6" y1="648.01" x2="393.1" y2="648.01" stroke="#6a6a6a" stroke-width="1"/>
<text x="387.6" y="650.71" font-family='"Liberation Sans", sans-serif' font-size="9.9" text-anchor="end" fill="#222">0.6</text>
<line x1="389.6" y1="630.62" x2="393.1" y2="630.62" stroke="#6a6a6a" stroke-width="1"/>
<text x="387.6" y="633.32" font-family='"Liberation Sans", sans-serif' font-size="9.9" text-anchor="end" fill="#222">0.7</text>
<line x1="389.6" y1="613.23" x2="393.1" y2="613.23" stroke="#6a6a6a" stroke-width="1"/>
<text x="387.6" y="615.93" font-family='"Liberation Sans", sans-serif' font-size="9.9" text-anchor="end" fill="#222">0.8</text>
<line x1="389.6" y1="595.84" x2="393.1" y2="595.84" stroke="#6a6a6a" stroke-width="1"/>
<text x="387.6" y="598.54" font-family='"Liberation Sans", sans-serif' font-size="9.9" text-anchor="end" fill="#222">0.9</text>
<line x1="389.6" y1="578.45" x2="393.1" y2="578.45" stroke="#6a6a6a" stroke-width="1"/>
<text x="387.6" y="581.15" font-family='"Liberation Sans", sans-serif' font-size="9.9" text-anchor="end" fill="#222">1.0</text>
<line x1="391.1" y1="743.65" x2="393.1" y2="743.65" stroke="#6a6a6a" stroke-width="1"/>
<line x1="391.1" y1="726.26" x2="393.1" y2="726.26" stroke="#6a6a6a" stroke-width="1"/>
<line x1="391.1" y1="708.88" x2="393.1" y2="708.88" stroke="#6a6a6a" stroke-width="1"/>
<line x1="391.1" y1="691.49" x2="393.1" y2="691.49" stroke="#6a6a6a" stroke-width="1"/>
<line x1="391.1" y1="674.10" x2="393.1" y2="674.10" stroke="#6a6a6a" stroke-width="1"/>
<line x1="391.1" y1="656.71" x2="393.1" y2="656.71" stroke="#6a6a6a" stroke-width="1"/>
<line x1="391.1" y1="639.32" x2="393.1" y2="639.32" stroke="#6a6a6a" stroke-width="1"/>
<line x1="391.1" y1="621.92" x2="393.1" y2="621.92" stroke="#6a6a6a" stroke-width="1"/>
<line x1="391.1" y1="604.53" x2="393.1" y2="604.53" stroke="#6a6a6a" stroke-width="1"/>
<line x1="391.1" y1="587.14" x2="393.1" y2="587.14" stroke="#6a6a6a" stroke-width="1"/>
<line x1="393.70" y1="578.45" x2="633.90" y2="578.45" stroke="#5a5a5a" stroke-width="0.95" stroke-dasharray="6.5 2.8 1.2 3.25"/>
<polygon points="490.2,571.0 492.0,576.4 497.7,576.5 493.1,579.9 494.8,585.3 490.2,582.0 485.6,585.3 487.3,579.9 482.7,576.5 488.4,576.4" fill="#4fb27a" fill-opacity="0.92"/>
<polygon points="614.4,571.0 616.2,576.4 621.9,576.5 617.3,579.9 619.0,585.3 614.4,582.0 609.8,585.3 611.5,579.9 606.9,576.5 612.6,576.4" fill="#4fb27a" fill-opacity="0.92"/>
<path d="M393.10,748.40 C403.57,748.53 434.05,748.88 455.90,749.20 C477.75,749.52 507.68,750.25 524.20,750.30 C540.72,750.35 544.87,750.00 555.00,749.50 C565.13,749.00 575.83,747.50 585.00,747.30 C594.17,747.10 601.75,747.98 610.00,748.30 C618.25,748.62 630.42,749.05 634.50,749.20" fill="none" stroke="#333333" stroke-width="1" stroke-linejoin="round"/>
<path d="M393.10,713.10 C397.25,714.37 410.07,718.28 418.00,720.70 C425.93,723.12 433.12,725.83 440.70,727.60 C448.28,729.37 454.63,730.23 463.50,731.30 C472.37,732.37 482.52,733.42 493.90,734.00 C505.28,734.58 520.42,734.48 531.80,734.80 C543.18,735.12 552.08,735.40 562.20,735.90 C572.32,736.40 580.45,736.98 592.50,737.80 C604.55,738.62 627.50,740.30 634.50,740.80" fill="none" stroke="#3333ff" stroke-width="1" stroke-linejoin="round"/>
<path d="M393.10,641.80 C395.75,638.80 403.18,629.48 409.00,623.80 C414.82,618.12 422.95,611.50 428.00,607.70 C433.05,603.90 436.15,602.42 439.30,601.00 C442.45,599.58 444.05,598.87 446.90,599.20 C449.75,599.53 453.23,600.80 456.40,603.00 C459.57,605.20 462.73,608.62 465.90,612.40 C469.07,616.18 472.23,621.42 475.40,625.70 C478.57,629.98 481.73,634.62 484.90,638.10 C488.07,641.58 491.23,644.23 494.40,646.60 C497.57,648.97 500.75,650.72 503.90,652.30 C507.05,653.88 509.12,654.52 513.30,656.10 C517.48,657.68 523.22,659.58 529.00,661.80 C534.78,664.02 541.20,666.53 548.00,669.40 C554.80,672.27 562.38,674.87 569.80,679.00 C577.22,683.13 585.55,690.10 592.50,694.20 C599.45,698.30 604.50,701.08 611.50,703.60 C618.50,706.12 630.67,708.35 634.50,709.30" fill="none" stroke="#ff33ff" stroke-width="1.1" stroke-linejoin="round"/>
<path d="M393.10,636.20 C395.75,633.50 403.18,624.92 409.00,620.00 C414.82,615.08 421.68,610.48 428.00,606.70 C434.32,602.92 441.22,599.67 446.90,597.30 C452.58,594.93 457.98,593.62 462.10,592.50 C466.22,591.38 468.43,590.60 471.60,590.60 C474.77,590.60 477.93,590.77 481.10,592.50 C484.27,594.23 487.43,597.37 490.60,601.00 C493.77,604.63 496.95,610.18 500.10,614.30 C503.25,618.42 505.95,621.90 509.50,625.70 C513.05,629.50 517.52,633.93 521.40,637.10 C525.28,640.27 528.68,642.87 532.80,644.70 C536.92,646.53 541.68,648.10 546.10,648.10 C550.52,648.10 554.88,646.53 559.30,644.70 C563.72,642.87 568.17,639.78 572.60,637.10 C577.03,634.42 582.10,630.82 585.90,628.60 C589.70,626.38 592.72,624.75 595.40,623.80 C598.08,622.85 599.47,622.27 602.00,622.90 C604.53,623.53 607.90,625.23 610.60,627.60 C613.30,629.97 615.68,633.62 618.20,637.10 C620.72,640.58 622.98,644.23 625.70,648.50 C628.42,652.77 633.03,660.33 634.50,662.70" fill="none" stroke="#ff2a2a" stroke-width="1.1" stroke-linejoin="round"/>
<path d="M393.10,638.10 C395.75,635.25 403.18,626.23 409.00,621.00 C414.82,615.77 421.68,611.13 428.00,606.70 C434.32,602.27 440.58,598.18 446.90,594.40 C453.22,590.62 460.52,586.43 465.90,584.00 C471.28,581.57 475.40,580.68 479.20,579.80 C483.00,578.92 484.58,578.80 488.70,578.70 C492.82,578.60 498.68,579.02 503.90,579.20 C509.12,579.38 515.82,579.88 520.00,579.80 C524.18,579.72 524.33,578.80 529.00,578.70 C533.67,578.60 542.32,578.70 548.00,579.20 C553.68,579.70 558.68,580.75 563.10,581.70 C567.52,582.65 570.70,584.12 574.50,584.90 C578.30,585.68 582.10,586.62 585.90,586.40 C589.70,586.18 593.82,584.63 597.30,583.60 C600.78,582.57 603.95,581.08 606.80,580.20 C609.65,579.32 611.55,578.30 614.40,578.30 C617.25,578.30 620.55,579.25 623.90,580.20 C627.25,581.15 632.73,583.37 634.50,584.00" fill="none" stroke="#2f9a2f" stroke-width="1.1" stroke-linejoin="round"/>
<line x1="398.00" y1="640.50" x2="419.60" y2="640.50" stroke="#555" stroke-width="1.3" />
<text id="st19" x="0" y="0" font-family='"Liberation Serif", serif' font-size="10.340" font-weight="normal" text-anchor="start" transform="translate(422.6,644.072) scale(0.9226,1)"><tspan>Er</tspan><tspan dy="2.90" font-size="5.69">2</tspan><tspan dy="-2.90">Zr</tspan><tspan dy="2.90" font-size="5.69">2</tspan><tspan dy="-2.90">O</tspan><tspan dy="2.90" font-size="5.69">7</tspan><tspan dy="-2.90"> 0.4 mm</tspan></text>
<line x1="398.00" y1="655.50" x2="419.60" y2="655.50" stroke="#ff2a2a" stroke-width="1" />
<text id="st20" x="0" y="0" font-family='"Liberation Serif", serif' font-size="10.340" font-weight="normal" text-anchor="start" transform="translate(422.6,659.072) scale(0.9207,1)"><tspan>Er</tspan><tspan dy="2.90" font-size="5.69">2</tspan><tspan dy="-2.90">Zr</tspan><tspan dy="2.90" font-size="5.69">2</tspan><tspan dy="-2.90">O</tspan><tspan dy="2.90" font-size="5.69">7</tspan><tspan dy="-2.90"> 1.132 mm</tspan></text>
<line x1="398.00" y1="670.50" x2="419.60" y2="670.50" stroke="#3333ff" stroke-width="1" />
<text id="st21" x="0" y="0" font-family='"Liberation Serif", serif' font-size="10.340" font-weight="normal" text-anchor="start" transform="translate(422.6,674.072) scale(0.9202,1)"><tspan>Gd</tspan><tspan dy="2.90" font-size="5.69">2</tspan><tspan dy="-2.90">Zr</tspan><tspan dy="2.90" font-size="5.69">2</tspan><tspan dy="-2.90">O</tspan><tspan dy="2.90" font-size="5.69">7</tspan><tspan dy="-2.90"> 0.732 mm</tspan></text>
<line x1="398.00" y1="686.50" x2="419.60" y2="686.50" stroke="#ff80ff" stroke-width="2" />
<text id="st22" x="0" y="0" font-family='"Liberation Serif", serif' font-size="10.340" font-weight="normal" text-anchor="start" transform="translate(422.6,690.072) scale(0.9202,1)"><tspan>Gd</tspan><tspan dy="2.90" font-size="5.69">2</tspan><tspan dy="-2.90">Zr</tspan><tspan dy="2.90" font-size="5.69">2</tspan><tspan dy="-2.90">O</tspan><tspan dy="2.90" font-size="5.69">7</tspan><tspan dy="-2.90"> 1.132 mm</tspan></text>
<line x1="398.00" y1="701.50" x2="419.60" y2="701.50" stroke="#2f9a2f" stroke-width="1" />
<text id="st23" x="0" y="0" font-family='"Liberation Serif", serif' font-size="10.340" font-weight="normal" text-anchor="start" transform="translate(422.6,705.072) scale(0.9346,1)"><tspan>Er</tspan><tspan dy="2.90" font-size="5.69">2</tspan><tspan dy="-2.90">Zr</tspan><tspan dy="2.90" font-size="5.69">2</tspan><tspan dy="-2.90">O</tspan><tspan dy="2.90" font-size="5.69">7</tspan><tspan dy="-2.90">/Gd</tspan><tspan dy="2.90" font-size="5.69">2</tspan><tspan dy="-2.90">Zr</tspan><tspan dy="2.90" font-size="5.69">2</tspan><tspan dy="-2.90">O</tspan><tspan dy="2.90" font-size="5.69">7</tspan></text>
<text id="st24" x="0" y="0" font-family='"Liberation Serif", serif' font-size="10.340" font-weight="normal" text-anchor="start" transform="translate(425.5,720.3) scale(0.9077,1)"><tspan>0.4 mm/0.732 mm</tspan></text>
<line x1="195.60" y1="514.00" x2="195.60" y2="578.00" stroke="#463f3f" stroke-width="1.4" stroke-dasharray="2.7 1.8"/>
<line x1="490.20" y1="485.00" x2="490.20" y2="578.00" stroke="#463f3f" stroke-width="1.4" stroke-dasharray="2.7 1.8"/>
<line x1="614.40" y1="493.00" x2="614.40" y2="578.00" stroke="#463f3f" stroke-width="1.4" stroke-dasharray="2.7 1.8"/>
<text transform="translate(34.2,447.1) rotate(-90)" x="0" y="0" font-family='"Liberation Serif", serif' font-weight="bold" font-size="13.8" text-anchor="middle">Reflection Loss (dB)</text>
<text transform="translate(358.8,447.1) rotate(-90)" x="0" y="0" font-family='"Liberation Serif", serif' font-weight="bold" font-size="13.8" text-anchor="middle">Reflection Loss (dB)</text>
<text transform="translate(32,671.2) rotate(-90)" x="0" y="0" font-family='"Liberation Serif", serif' font-weight="bold" font-style="italic" font-size="14.5" text-anchor="start">M<tspan font-size="8.5" dy="4.5" dx="0.5">z</tspan></text>
<text transform="translate(357,671) rotate(-90)" x="0" y="0" font-family='"Liberation Serif", serif' font-weight="bold" font-style="italic" font-size="14.5" text-anchor="start">M<tspan font-size="8.5" dy="4.5" dx="0.5">z</tspan></text>
<text x="189.6" y="562" font-family='"Liberation Serif", serif' font-weight="bold" font-size="13.4" text-anchor="middle">Frequency (GHz)</text>
<text x="189.6" y="789" font-family='"Liberation Serif", serif' font-weight="bold" font-size="13.4" text-anchor="middle">Frequency (GHz)</text>
<text x="513.5" y="562" font-family='"Liberation Serif", serif' font-weight="bold" font-size="13.4" text-anchor="middle">Frequency (GHz)</text>
<text x="513.5" y="789" font-family='"Liberation Serif", serif' font-weight="bold" font-size="13.4" text-anchor="middle">Frequency (GHz)</text>
<text x="15.3" y="809" font-family='"Liberation Serif", serif' font-weight="bold" font-size="19.8">(d)</text>
<text x="338.1" y="809" font-family='"Liberation Serif", serif' font-weight="bold" font-size="19.8">(e)</text>
<line x1="57.86" y1="930.47" x2="53.00" y2="821.11" stroke="#e0e0e0" stroke-width="0.6" />
<line x1="71.50" y1="925.07" x2="67.76" y2="819.39" stroke="#e0e0e0" stroke-width="0.6" />
<line x1="84.02" y1="920.11" x2="81.33" y2="817.81" stroke="#e0e0e0" stroke-width="0.6" />
<line x1="96.48" y1="915.17" x2="94.81" y2="816.24" stroke="#e0e0e0" stroke-width="0.6" />
<line x1="107.17" y1="910.94" x2="106.39" y2="814.89" stroke="#e0e0e0" stroke-width="0.6" />
<line x1="126.69" y1="910.06" x2="127.50" y2="814.75" stroke="#e0e0e0" stroke-width="0.6" />
<line x1="138.12" y1="913.29" x2="139.85" y2="815.94" stroke="#e0e0e0" stroke-width="0.6" />
<line x1="149.46" y1="916.50" x2="152.10" y2="817.13" stroke="#e0e0e0" stroke-width="0.6" />
<line x1="160.89" y1="919.73" x2="164.44" y2="818.32" stroke="#e0e0e0" stroke-width="0.6" />
<line x1="173.48" y1="923.30" x2="178.05" y2="819.63" stroke="#e0e0e0" stroke-width="0.6" />
<line x1="186.16" y1="926.88" x2="191.74" y2="820.96" stroke="#e0e0e0" stroke-width="0.6" />
<polyline points="42.8,934.3 116.6,905.5 200.1,928.8" fill="none" stroke="#e0e0e0" stroke-width="0.6"/>
<polyline points="42.0,919.8 116.6,893.5 201.0,914.9" fill="none" stroke="#e0e0e0" stroke-width="0.6"/>
<polyline points="41.2,905.3 116.6,881.6 201.8,901.1" fill="none" stroke="#e0e0e0" stroke-width="0.6"/>
<polyline points="40.4,890.8 116.6,869.6 202.7,887.2" fill="none" stroke="#e0e0e0" stroke-width="0.6"/>
<polyline points="39.7,876.3 116.6,857.7 203.5,873.4" fill="none" stroke="#e0e0e0" stroke-width="0.6"/>
<polyline points="38.9,861.8 116.6,845.7 204.4,859.5" fill="none" stroke="#e0e0e0" stroke-width="0.6"/>
<polyline points="38.1,847.3 116.6,833.8 205.3,845.7" fill="none" stroke="#e0e0e0" stroke-width="0.6"/>
<polyline points="37.3,832.9 116.6,821.8 206.1,831.8" fill="none" stroke="#e0e0e0" stroke-width="0.6"/>
<line x1="53.56" y1="940.86" x2="126.69" y2="910.06" stroke="#d2d2d2" stroke-width="0.6" />
<line x1="65.63" y1="945.92" x2="138.12" y2="913.29" stroke="#d2d2d2" stroke-width="0.6" />
<line x1="77.61" y1="950.94" x2="149.46" y2="916.50" stroke="#d2d2d2" stroke-width="0.6" />
<line x1="89.68" y1="955.99" x2="160.89" y2="919.73" stroke="#d2d2d2" stroke-width="0.6" />
<line x1="102.98" y1="961.57" x2="173.48" y2="923.30" stroke="#d2d2d2" stroke-width="0.6" />
<line x1="116.38" y1="967.17" x2="186.16" y2="926.88" stroke="#d2d2d2" stroke-width="0.6" />
<line x1="57.86" y1="930.47" x2="145.01" y2="964.67" stroke="#d2d2d2" stroke-width="0.6" />
<line x1="71.50" y1="925.07" x2="157.77" y2="956.81" stroke="#d2d2d2" stroke-width="0.6" />
<line x1="84.02" y1="920.11" x2="169.50" y2="949.58" stroke="#d2d2d2" stroke-width="0.6" />
<line x1="96.48" y1="915.17" x2="181.16" y2="942.40" stroke="#d2d2d2" stroke-width="0.6" />
<line x1="107.17" y1="910.94" x2="191.17" y2="936.24" stroke="#d2d2d2" stroke-width="0.6" />
<polyline points="36.8,823.0 116.6,813.7 206.7,822.4" fill="none" stroke="#9a9a9a" stroke-width="0.8"/>
<line x1="116.60" y1="813.70" x2="116.60" y2="907.20" stroke="#9a9a9a" stroke-width="0.8" />
<line x1="206.70" y1="822.40" x2="200.00" y2="930.80" stroke="#9a9a9a" stroke-width="0.8" />
<polyline points="42.9,936.4 116.6,907.2 200.0,930.8" fill="none" stroke="#8a8a8a" stroke-width="0.8"/>
<line x1="36.80" y1="823.00" x2="42.90" y2="936.40" stroke="#444" stroke-width="1.1" />
<line x1="42.90" y1="936.40" x2="131.00" y2="973.30" stroke="#444" stroke-width="1.1" />
<line x1="131.00" y1="973.30" x2="200.00" y2="930.80" stroke="#444" stroke-width="1.1" />
<line x1="37.79" y1="934.60" x2="42.79" y2="934.30" stroke="#444" stroke-width="1" />
<text x="31.2" y="937.3000000000001" font-family='"Liberation Sans", sans-serif' font-size="8.4" text-anchor="middle" fill="#333">1</text>
<line x1="39.40" y1="927.25" x2="42.40" y2="927.05" stroke="#444" stroke-width="0.9" />
<line x1="37.01" y1="920.11" x2="42.01" y2="919.81" stroke="#444" stroke-width="1" />
<text x="30.1" y="924.2" font-family='"Liberation Sans", sans-serif' font-size="8.4" text-anchor="middle" fill="#333">2</text>
<line x1="38.62" y1="912.76" x2="41.62" y2="912.56" stroke="#444" stroke-width="0.9" />
<line x1="36.23" y1="905.61" x2="41.23" y2="905.31" stroke="#444" stroke-width="1" />
<text x="28.9" y="910.1" font-family='"Liberation Sans", sans-serif' font-size="8.4" text-anchor="middle" fill="#333">3</text>
<line x1="37.84" y1="898.27" x2="40.84" y2="898.07" stroke="#444" stroke-width="0.9" />
<line x1="35.45" y1="891.12" x2="40.45" y2="890.82" stroke="#444" stroke-width="1" />
<text x="28" y="895.3000000000001" font-family='"Liberation Sans", sans-serif' font-size="8.4" text-anchor="middle" fill="#333">4</text>
<line x1="37.06" y1="883.78" x2="40.06" y2="883.58" stroke="#444" stroke-width="0.9" />
<line x1="34.67" y1="876.63" x2="39.67" y2="876.33" stroke="#444" stroke-width="1" />
<text x="27.2" y="880.8000000000001" font-family='"Liberation Sans", sans-serif' font-size="8.4" text-anchor="middle" fill="#333">5</text>
<line x1="36.28" y1="869.28" x2="39.28" y2="869.08" stroke="#444" stroke-width="0.9" />
<line x1="33.89" y1="862.14" x2="38.89" y2="861.84" stroke="#444" stroke-width="1" />
<text x="26.3" y="865.9000000000001" font-family='"Liberation Sans", sans-serif' font-size="8.4" text-anchor="middle" fill="#333">6</text>
<line x1="35.50" y1="854.79" x2="38.50" y2="854.59" stroke="#444" stroke-width="0.9" />
<line x1="33.11" y1="847.65" x2="38.11" y2="847.35" stroke="#444" stroke-width="1" />
<text x="25.8" y="851.0" font-family='"Liberation Sans", sans-serif' font-size="8.4" text-anchor="middle" fill="#333">7</text>
<line x1="34.72" y1="840.30" x2="37.72" y2="840.10" stroke="#444" stroke-width="0.9" />
<line x1="32.33" y1="833.15" x2="37.33" y2="832.85" stroke="#444" stroke-width="1" />
<text x="24.5" y="836.1" font-family='"Liberation Sans", sans-serif' font-size="8.4" text-anchor="middle" fill="#333">8</text>
<line x1="40.40" y1="939.90" x2="42.90" y2="936.40" stroke="#444" stroke-width="0.9" />
<text transform="translate(29.6,941.9) rotate(-26)" x="0" y="2.6" font-family='"Liberation Sans", sans-serif' font-size="7.4" text-anchor="middle" fill="#444">1.0</text>
<line x1="51.06" y1="944.36" x2="53.56" y2="940.86" stroke="#444" stroke-width="0.9" />
<text transform="translate(40.1,946.6) rotate(-26)" x="0" y="2.6" font-family='"Liberation Sans", sans-serif' font-size="7.4" text-anchor="middle" fill="#444">1.5</text>
<line x1="63.13" y1="949.42" x2="65.63" y2="945.92" stroke="#444" stroke-width="0.9" />
<text transform="translate(51.5,951.9) rotate(-26)" x="0" y="2.6" font-family='"Liberation Sans", sans-serif' font-size="7.4" text-anchor="middle" fill="#444">2.0</text>
<line x1="75.11" y1="954.44" x2="77.61" y2="950.94" stroke="#444" stroke-width="0.9" />
<text transform="translate(62.9,957.2) rotate(-26)" x="0" y="2.6" font-family='"Liberation Sans", sans-serif' font-size="7.4" text-anchor="middle" fill="#444">2.5</text>
<line x1="87.18" y1="959.49" x2="89.68" y2="955.99" stroke="#444" stroke-width="0.9" />
<text transform="translate(76.1,962.9) rotate(-26)" x="0" y="2.6" font-family='"Liberation Sans", sans-serif' font-size="7.4" text-anchor="middle" fill="#444">3.0</text>
<line x1="100.48" y1="965.07" x2="102.98" y2="961.57" stroke="#444" stroke-width="0.9" />
<text transform="translate(89.2,968.9) rotate(-26)" x="0" y="2.6" font-family='"Liberation Sans", sans-serif' font-size="7.4" text-anchor="middle" fill="#444">3.5</text>
<line x1="113.88" y1="970.67" x2="116.38" y2="967.17" stroke="#444" stroke-width="0.9" />
<text transform="translate(103.2,974.7) rotate(-26)" x="0" y="2.6" font-family='"Liberation Sans", sans-serif' font-size="7.4" text-anchor="middle" fill="#444">4.0</text>
<line x1="128.50" y1="976.80" x2="131.00" y2="973.30" stroke="#444" stroke-width="0.9" />
<text transform="translate(119,980.8) rotate(-26)" x="0" y="2.6" font-family='"Liberation Sans", sans-serif' font-size="7.4" text-anchor="middle" fill="#444">4.5</text>
<line x1="46.73" y1="940.63" x2="48.23" y2="938.63" stroke="#444" stroke-width="0.8" />
<line x1="58.09" y1="945.39" x2="59.59" y2="943.39" stroke="#444" stroke-width="0.8" />
<line x1="70.12" y1="950.43" x2="71.62" y2="948.43" stroke="#444" stroke-width="0.8" />
<line x1="82.15" y1="955.47" x2="83.65" y2="953.47" stroke="#444" stroke-width="0.8" />
<line x1="94.83" y1="960.78" x2="96.33" y2="958.78" stroke="#444" stroke-width="0.8" />
<line x1="108.18" y1="966.37" x2="109.68" y2="964.37" stroke="#444" stroke-width="0.8" />
<line x1="122.19" y1="972.24" x2="123.69" y2="970.24" stroke="#444" stroke-width="0.8" />
<line x1="131.00" y1="973.30" x2="135.80" y2="974.50" stroke="#444" stroke-width="0.9" />
<text transform="translate(147.9,981.8) rotate(24)" x="0" y="2.6" font-family='"Liberation Sans", sans-serif' font-size="7.4" text-anchor="middle" fill="#444">-70</text>
<line x1="145.01" y1="964.67" x2="149.81" y2="965.87" stroke="#444" stroke-width="0.9" />
<text transform="translate(161,972.6) rotate(24)" x="0" y="2.6" font-family='"Liberation Sans", sans-serif' font-size="7.4" text-anchor="middle" fill="#444">-60</text>
<line x1="157.77" y1="956.81" x2="162.57" y2="958.01" stroke="#444" stroke-width="0.9" />
<text transform="translate(173.5,964) rotate(24)" x="0" y="2.6" font-family='"Liberation Sans", sans-serif' font-size="7.4" text-anchor="middle" fill="#444">-50</text>
<line x1="169.50" y1="949.58" x2="174.30" y2="950.78" stroke="#444" stroke-width="0.9" />
<text transform="translate(184.7,956.8) rotate(24)" x="0" y="2.6" font-family='"Liberation Sans", sans-serif' font-size="7.4" text-anchor="middle" fill="#444">-40</text>
<line x1="181.16" y1="942.40" x2="185.96" y2="943.60" stroke="#444" stroke-width="0.9" />
<text transform="translate(195.2,949.2) rotate(24)" x="0" y="2.6" font-family='"Liberation Sans", sans-serif' font-size="7.4" text-anchor="middle" fill="#444">-30</text>
<line x1="191.17" y1="936.24" x2="195.97" y2="937.44" stroke="#444" stroke-width="0.9" />
<text transform="translate(205,942.6) rotate(24)" x="0" y="2.6" font-family='"Liberation Sans", sans-serif' font-size="7.4" text-anchor="middle" fill="#444">-20</text>
<line x1="200.00" y1="930.80" x2="204.80" y2="932.00" stroke="#444" stroke-width="0.9" />
<text transform="translate(214.2,936.4) rotate(24)" x="0" y="2.6" font-family='"Liberation Sans", sans-serif' font-size="7.4" text-anchor="middle" fill="#444">-10</text>
<line x1="138.00" y1="968.99" x2="140.80" y2="969.69" stroke="#444" stroke-width="0.8" />
<line x1="151.39" y1="960.74" x2="154.19" y2="961.44" stroke="#444" stroke-width="0.8" />
<line x1="163.64" y1="953.20" x2="166.44" y2="953.90" stroke="#444" stroke-width="0.8" />
<line x1="175.33" y1="945.99" x2="178.13" y2="946.69" stroke="#444" stroke-width="0.8" />
<line x1="186.17" y1="939.32" x2="188.97" y2="940.02" stroke="#444" stroke-width="0.8" />
<line x1="195.58" y1="933.52" x2="198.38" y2="934.22" stroke="#444" stroke-width="0.8" />
<text transform="translate(19.6,887.7) rotate(-93)" x="0" y="0" font-family='"Liberation Serif", serif' font-weight="bold" font-size="12" text-anchor="middle">EAB (GHz)</text>
<text transform="translate(55.5,970.5) rotate(24)" x="0" y="3.5" font-family='"Liberation Serif", serif' font-weight="bold" font-size="9.6" text-anchor="middle"><tspan font-style="italic">d</tspan> (mm)</text>
<text transform="translate(199,966) rotate(-42)" x="0" y="3.5" font-family='"Liberation Serif", serif' font-weight="bold" font-size="9.4" text-anchor="middle"><tspan font-style="italic">R</tspan><tspan font-size="5.8" dy="2.5">Lmin</tspan><tspan dy="-2.5"> (dB)</tspan></text>
<ellipse cx="69.5" cy="828.5" rx="28.5" ry="8.2" transform="rotate(-18 69.5 828.5)" fill="#f6d6a6" fill-opacity="0.85"/>
<polygon points="49.0,829.9 50.1,833.2 53.6,833.2 50.8,835.3 51.8,838.6 49.0,836.6 46.2,838.6 47.2,835.3 44.4,833.2 47.9,833.2" fill="#ff1010" fill-opacity="1.0"/>
<polygon points="90.2,816.4 91.3,819.7 94.8,819.7 92.0,821.8 93.0,825.1 90.2,823.1 87.4,825.1 88.4,821.8 85.6,819.7 89.1,819.7" fill="#ff1010" fill-opacity="1.0"/>
<clipPath id="clip1"><rect x="124.6" y="877.3" width="11.2" height="5.70"/></clipPath><rect x="127.40" y="880.10" width="5.60" height="5.60" fill="#fff" stroke="#8b0000" stroke-width="0.9"/><g clip-path="url(#clip1)"><rect x="127.40" y="880.10" width="5.60" height="5.60" fill="#8b0000"/></g>
<circle cx="126.00" cy="884.10" r="3.20" fill="#000080"/>
<polygon points="146.0,877.9 148.8,879.6 148.8,882.8 146.0,884.5 143.2,882.8 143.2,879.6" fill="#808010"/>
<rect x="158.90" y="879.00" width="5.20" height="5.20" fill="#000000"/>
<clipPath id="clip2"><rect x="183.6" y="877.1" width="12.8" height="6.50"/></clipPath><polygon points="190.0,887.0 193.5,880.9 186.5,880.9" fill="#fff" stroke="#008080" stroke-width="0.9"/><g clip-path="url(#clip2)"><polygon points="190.0,887.0 193.5,880.9 186.5,880.9" fill="#008080"/></g>
<polygon points="147.8,887.3 153.9,883.8 153.9,890.8" fill="#ff10ff"/>
<polygon points="146.4,895.2 149.9,889.1 142.9,889.1" fill="#0000ff"/>
<polygon points="151.7,890.7 155.3,894.3 151.7,897.9 148.1,894.3" fill="#00f0ff"/>
<polygon points="159.1,902.5 152.9,898.9 152.9,906.1" fill="#ffee00"/>
<polygon points="135.2,895.6 138.8,901.8 131.6,901.8" fill="#22ee22"/>
<clipPath id="clip3"><rect x="117.2" y="897.4" width="12.0" height="6.10"/></clipPath><circle cx="123.20" cy="903.40" r="3.00" fill="#fff" stroke="#008000" stroke-width="0.9"/><g clip-path="url(#clip3)"><circle cx="123.20" cy="903.40" r="3.00" fill="#008000"/></g>
<clipPath id="clip4"><rect x="93.6" y="890.4" width="12.8" height="7.20"/></clipPath><polygon points="100.0,893.3 103.5,899.4 96.5,899.4" fill="#fff" stroke="#008080" stroke-width="0.9"/><g clip-path="url(#clip4)"><polygon points="100.0,893.3 103.5,899.4 96.5,899.4" fill="#008080"/></g>
<circle cx="107.10" cy="905.30" r="3.00" fill="#8a2be2"/>
<clipPath id="clip5"><rect x="104.9" y="904.6" width="12.0" height="6.10"/></clipPath><polygon points="107.6,910.6 113.3,907.3 113.3,913.9" fill="#fff" stroke="#ff8000" stroke-width="0.9"/><g clip-path="url(#clip5)"><polygon points="107.6,910.6 113.3,907.3 113.3,913.9" fill="#ff8000"/></g>
<circle cx="110.50" cy="919.00" r="2.90" fill="#800080"/><circle cx="109.63" cy="918.13" r="1.01" fill="#e8a8e8" fill-opacity="0.9"/>
<rect x="221.80" y="804.90" width="5.80" height="5.80" fill="#000000"/>
<text id="st25" x="0" y="0" font-family='"Liberation Serif", serif' font-size="8.305" font-weight="normal" text-anchor="start" transform="translate(235.5,810.4) scale(0.9203,1)"><tspan>Si</tspan><tspan dy="2.33" font-size="4.57">3</tspan><tspan dy="-2.33">N</tspan><tspan dy="2.33" font-size="4.57">4</tspan><tspan dy="-2.33">–SiC/SiO</tspan><tspan dy="2.33" font-size="4.57">2</tspan><tspan dy="-2.33"> [S38]</tspan></text>
<circle cx="224.70" cy="819.80" r="2.90" fill="#8a2be2"/>
<text id="st26" x="0" y="0" font-family='"Liberation Serif", serif' font-size="8.305" font-weight="normal" text-anchor="start" transform="translate(235.5,822.4) scale(0.9208,1)"><tspan>SiC</tspan><tspan dy="2.33" font-size="4.57">f</tspan><tspan dy="-2.33">/SiC-SiC</tspan><tspan dy="2.33" font-size="4.57">nw</tspan><tspan dy="-2.33"> [S39]</tspan></text>
<polygon points="224.7,828.7 227.9,834.2 221.5,834.2" fill="#22ee22"/>
<text id="st27" x="0" y="0" font-family='"Liberation Serif", serif' font-size="8.305" font-weight="normal" text-anchor="start" transform="translate(235.5,834.5) scale(0.9192,1)"><tspan>SiC/Si</tspan><tspan dy="2.33" font-size="4.57">3</tspan><tspan dy="-2.33">N</tspan><tspan dy="2.33" font-size="4.57">4</tspan><tspan dy="-2.33"> [S40]</tspan></text>
<polygon points="224.7,847.1 227.9,841.6 221.5,841.6" fill="#0000ff"/>
<text id="st28" x="0" y="0" font-family='"Liberation Serif", serif' font-size="8.305" font-weight="normal" text-anchor="start" transform="translate(235.5,846.5) scale(0.9192,1)"><tspan>SiC/Si</tspan><tspan dy="2.33" font-size="4.57">3</tspan><tspan dy="-2.33">N</tspan><tspan dy="2.33" font-size="4.57">4</tspan><tspan dy="-2.33"> [S41]</tspan></text>
<polygon points="224.7,852.3 228.2,855.8 224.7,859.3 221.2,855.8" fill="#00f0ff"/>
<text id="st29" x="0" y="0" font-family='"Liberation Serif", serif' font-size="8.305" font-weight="normal" text-anchor="start" transform="translate(235.5,858.4) scale(0.9132,1)"><tspan>SiC</tspan><tspan dy="2.33" font-size="4.57">f</tspan><tspan dy="-2.33">/BN/AlPO</tspan><tspan dy="2.33" font-size="4.57">4</tspan><tspan dy="-2.33">/MWCNTs [S42]</tspan></text>
<polygon points="221.5,868.1 227.0,864.9 227.0,871.3" fill="#ff10ff"/>
<text id="st30" x="0" y="0" font-family='"Liberation Serif", serif' font-size="8.305" font-weight="normal" text-anchor="start" transform="translate(235.5,870.7) scale(0.9172,1)"><tspan>RGO-SiC</tspan><tspan dy="2.33" font-size="4.57">nw</tspan><tspan dy="-2.33">/SiBCN [S43]</tspan></text>
<polygon points="227.9,880.3 222.4,877.1 222.4,883.5" fill="#ffee00"/>
<text id="st31" x="0" y="0" font-family='"Liberation Serif", serif' font-size="8.305" font-weight="normal" text-anchor="start" transform="translate(235.5,882.9) scale(0.9187,1)"><tspan>SiC</tspan><tspan dy="2.33" font-size="4.57">f</tspan><tspan dy="-2.33">/SiC–Al</tspan><tspan dy="2.33" font-size="4.57">2</tspan><tspan dy="-2.33">O</tspan><tspan dy="2.33" font-size="4.57">3</tspan><tspan dy="-2.33"> [S44]</tspan></text>
<polygon points="224.7,889.5 227.3,891.0 227.3,894.0 224.7,895.5 222.1,894.0 222.1,891.0" fill="#808010"/>
<text id="st32" x="0" y="0" font-family='"Liberation Serif", serif' font-size="8.305" font-weight="normal" text-anchor="start" transform="translate(235.5,895.1) scale(0.9146,1)"><tspan>graphene@Fe</tspan><tspan dy="2.33" font-size="4.57">3</tspan><tspan dy="-2.33">O</tspan><tspan dy="2.33" font-size="4.57">4</tspan><tspan dy="-2.33">/SiBCN [S45]</tspan></text>
<polygon points="224.7,901.5 227.7,903.7 226.6,907.3 222.8,907.3 221.7,903.7" fill="#000080"/>
<text id="st33" x="0" y="0" font-family='"Liberation Serif", serif' font-size="8.305" font-weight="normal" text-anchor="start" transform="translate(235.5,907.3000000000001) scale(0.9094,1)"><tspan>Fe-SiBCN [S46]</tspan></text>
<circle cx="224.70" cy="914.50" r="2.90" fill="#800080"/><circle cx="223.83" cy="913.63" r="1.01" fill="#e8a8e8" fill-opacity="0.9"/>
<text id="st34" x="0" y="0" font-family='"Liberation Serif", serif' font-size="8.305" font-weight="normal" text-anchor="start" transform="translate(235.5,917.1) scale(0.9094,1)"><tspan>SiBCN [S47]</tspan></text>
<clipPath id="clip6"><rect x="218.89999999999998" y="918.3000000000001" width="11.6" height="5.90"/></clipPath><rect x="221.80" y="921.20" width="5.80" height="5.80" fill="#fff" stroke="#8b0000" stroke-width="0.9"/><g clip-path="url(#clip6)"><rect x="221.80" y="921.20" width="5.80" height="5.80" fill="#8b0000"/></g>
<text id="st35" x="0" y="0" font-family='"Liberation Serif", serif' font-size="8.305" font-weight="normal" text-anchor="start" transform="translate(235.5,926.7) scale(0.9096,1)"><tspan>ZIF-67/SiBCN [S48]</tspan></text>
<clipPath id="clip7"><rect x="218.89999999999998" y="927.7" width="11.6" height="5.90"/></clipPath><circle cx="224.70" cy="933.50" r="2.90" fill="#fff" stroke="#008000" stroke-width="0.9"/><g clip-path="url(#clip7)"><circle cx="224.70" cy="933.50" r="2.90" fill="#008000"/></g>
<text id="st36" x="0" y="0" font-family='"Liberation Serif", serif' font-size="8.305" font-weight="normal" text-anchor="start" transform="translate(235.5,936.1) scale(0.9095,1)"><tspan>TiC/SiBCN [S49]</tspan></text>
<clipPath id="clip8"><rect x="218.89999999999998" y="937.7" width="11.6" height="6.52"/></clipPath><polygon points="224.7,940.3 227.9,945.8 221.5,945.8" fill="#fff" stroke="#008080" stroke-width="0.9"/><g clip-path="url(#clip8)"><polygon points="224.7,940.3 227.9,945.8 221.5,945.8" fill="#008080"/></g>
<text id="st37" x="0" y="0" font-family='"Liberation Serif", serif' font-size="8.305" font-weight="normal" text-anchor="start" transform="translate(235.5,946.1) scale(0.9248,1)"><tspan>Ti</tspan><tspan dy="2.33" font-size="4.57">3</tspan><tspan dy="-2.33">AlC</tspan><tspan dy="2.33" font-size="4.57">2</tspan><tspan dy="-2.33">@La</tspan><tspan dy="2.33" font-size="4.57">2</tspan><tspan dy="-2.33">Zr</tspan><tspan dy="2.33" font-size="4.57">2</tspan><tspan dy="-2.33">O</tspan><tspan dy="2.33" font-size="4.57">7</tspan><tspan dy="-2.33"> [S50]</tspan></text>
<clipPath id="clip9"><rect x="218.89999999999998" y="949.6" width="11.6" height="5.90"/></clipPath><polygon points="224.7,958.6 227.9,953.1 221.5,953.1" fill="#fff" stroke="#008080" stroke-width="0.9"/><g clip-path="url(#clip9)"><polygon points="224.7,958.6 227.9,953.1 221.5,953.1" fill="#008080"/></g>
<text id="st38" x="0" y="0" font-family='"Liberation Serif", serif' font-size="8.305" font-weight="normal" text-anchor="start" transform="translate(235.5,958.0) scale(0.9184,1)"><tspan>RGO/Si</tspan><tspan dy="2.33" font-size="4.57">3</tspan><tspan dy="-2.33">N</tspan><tspan dy="2.33" font-size="4.57">4</tspan><tspan dy="-2.33"> [S51]</tspan></text>
<clipPath id="clip10"><rect x="218.89999999999998" y="961.9000000000001" width="11.6" height="5.90"/></clipPath><polygon points="224.7,964.2 228.2,967.7 224.7,971.2 221.2,967.7" fill="#fff" stroke="#0000cc" stroke-width="0.9"/><g clip-path="url(#clip10)"><polygon points="224.7,964.2 228.2,967.7 224.7,971.2 221.2,967.7" fill="#0000cc"/></g>
<text id="st39" x="0" y="0" font-family='"Liberation Serif", serif' font-size="8.305" font-weight="normal" text-anchor="start" transform="translate(235.5,970.3000000000001) scale(0.9417,1)"><tspan>La</tspan><tspan dy="2.33" font-size="4.57">0.7</tspan><tspan dy="-2.33">Sr</tspan><tspan dy="2.33" font-size="4.57">0.3</tspan><tspan dy="-2.33">Mn</tspan><tspan dy="2.33" font-size="4.57">0.8</tspan><tspan dy="-2.33">Fe</tspan><tspan dy="2.33" font-size="4.57">0.2</tspan><tspan dy="-2.33">O</tspan><tspan dy="2.33" font-size="4.57">3</tspan><tspan dy="-2.33"> [S52]</tspan></text>
<clipPath id="clip11"><rect x="218.89999999999998" y="973.7" width="11.6" height="5.90"/></clipPath><polygon points="221.5,979.5 227.0,976.3 227.0,982.7" fill="#fff" stroke="#ff8000" stroke-width="0.9"/><g clip-path="url(#clip11)"><polygon points="221.5,979.5 227.0,976.3 227.0,982.7" fill="#ff8000"/></g>
<text id="st40" x="0" y="0" font-family='"Liberation Serif", serif' font-size="8.305" font-weight="normal" text-anchor="start" transform="translate(235.5,982.1) scale(0.9159,1)"><tspan>(FeCoNiCrMn)</tspan><tspan dy="2.33" font-size="4.57">3</tspan><tspan dy="-2.33">O</tspan><tspan dy="2.33" font-size="4.57">4</tspan><tspan dy="-2.33"> [S53]</tspan></text>
<polygon points="224.7,987.1 225.7,990.2 229.0,990.2 226.4,992.1 227.3,995.2 224.7,993.4 222.1,995.2 223.0,992.1 220.4,990.2 223.7,990.2" fill="#ff0000" fill-opacity="1.0"/>
<text id="st41" x="0" y="0" font-family='"Liberation Serif", serif' font-size="8.305" font-weight="normal" text-anchor="start" transform="translate(235.5,994.2) scale(0.9096,1)"><tspan>This work</tspan></text>
<ellipse cx="545" cy="864.5" rx="12.8" ry="42.6" transform="rotate(-12.7 545 864.5)" fill="#a9daf3"/>
<rect x="376.9" y="822.4" width="192.70000000000005" height="142.89999999999998" fill="none" stroke="#6a6a6a" stroke-width="1.1"/>
<line x1="376.90" y1="965.30" x2="376.90" y2="968.30" stroke="#6a6a6a" stroke-width="0.9" />
<text x="376.90" y="975.8" font-family='"Liberation Sans", sans-serif' font-size="7.6" text-anchor="middle" fill="#222">0</text>
<line x1="388.95" y1="965.30" x2="388.95" y2="967.10" stroke="#6a6a6a" stroke-width="0.8" />
<line x1="401.00" y1="965.30" x2="401.00" y2="968.30" stroke="#6a6a6a" stroke-width="0.9" />
<text x="401.00" y="975.8" font-family='"Liberation Sans", sans-serif' font-size="7.6" text-anchor="middle" fill="#222">1</text>
<line x1="413.05" y1="965.30" x2="413.05" y2="967.10" stroke="#6a6a6a" stroke-width="0.8" />
<line x1="425.10" y1="965.30" x2="425.10" y2="968.30" stroke="#6a6a6a" stroke-width="0.9" />
<text x="425.10" y="975.8" font-family='"Liberation Sans", sans-serif' font-size="7.6" text-anchor="middle" fill="#222">2</text>
<line x1="437.15" y1="965.30" x2="437.15" y2="967.10" stroke="#6a6a6a" stroke-width="0.8" />
<line x1="449.20" y1="965.30" x2="449.20" y2="968.30" stroke="#6a6a6a" stroke-width="0.9" />
<text x="449.20" y="975.8" font-family='"Liberation Sans", sans-serif' font-size="7.6" text-anchor="middle" fill="#222">3</text>
<line x1="461.25" y1="965.30" x2="461.25" y2="967.10" stroke="#6a6a6a" stroke-width="0.8" />
<line x1="473.30" y1="965.30" x2="473.30" y2="968.30" stroke="#6a6a6a" stroke-width="0.9" />
<text x="473.30" y="975.8" font-family='"Liberation Sans", sans-serif' font-size="7.6" text-anchor="middle" fill="#222">4</text>
<line x1="485.35" y1="965.30" x2="485.35" y2="967.10" stroke="#6a6a6a" stroke-width="0.8" />
<line x1="497.40" y1="965.30" x2="497.40" y2="968.30" stroke="#6a6a6a" stroke-width="0.9" />
<text x="497.40" y="975.8" font-family='"Liberation Sans", sans-serif' font-size="7.6" text-anchor="middle" fill="#222">5</text>
<line x1="509.45" y1="965.30" x2="509.45" y2="967.10" stroke="#6a6a6a" stroke-width="0.8" />
<line x1="521.50" y1="965.30" x2="521.50" y2="968.30" stroke="#6a6a6a" stroke-width="0.9" />
<text x="521.50" y="975.8" font-family='"Liberation Sans", sans-serif' font-size="7.6" text-anchor="middle" fill="#222">6</text>
<line x1="533.55" y1="965.30" x2="533.55" y2="967.10" stroke="#6a6a6a" stroke-width="0.8" />
<line x1="545.60" y1="965.30" x2="545.60" y2="968.30" stroke="#6a6a6a" stroke-width="0.9" />
<text x="545.60" y="975.8" font-family='"Liberation Sans", sans-serif' font-size="7.6" text-anchor="middle" fill="#222">7</text>
<line x1="557.65" y1="965.30" x2="557.65" y2="967.10" stroke="#6a6a6a" stroke-width="0.8" />
<line x1="569.70" y1="965.30" x2="569.70" y2="968.30" stroke="#6a6a6a" stroke-width="0.9" />
<text x="569.70" y="975.8" font-family='"Liberation Sans", sans-serif' font-size="7.6" text-anchor="middle" fill="#222">8</text>
<line x1="373.90" y1="965.30" x2="376.90" y2="965.30" stroke="#6a6a6a" stroke-width="0.9" />
<text x="372.60" y="968.00" font-family='"Liberation Sans", sans-serif' font-size="7.6" text-anchor="end" fill="#222">0</text>
<line x1="375.10" y1="953.39" x2="376.90" y2="953.39" stroke="#6a6a6a" stroke-width="0.8" />
<line x1="373.90" y1="941.48" x2="376.90" y2="941.48" stroke="#6a6a6a" stroke-width="0.9" />
<text x="372.60" y="944.18" font-family='"Liberation Sans", sans-serif' font-size="7.6" text-anchor="end" fill="#222">10</text>
<line x1="375.10" y1="929.57" x2="376.90" y2="929.57" stroke="#6a6a6a" stroke-width="0.8" />
<line x1="373.90" y1="917.66" x2="376.90" y2="917.66" stroke="#6a6a6a" stroke-width="0.9" />
<text x="372.60" y="920.36" font-family='"Liberation Sans", sans-serif' font-size="7.6" text-anchor="end" fill="#222">20</text>
<line x1="375.10" y1="905.75" x2="376.90" y2="905.75" stroke="#6a6a6a" stroke-width="0.8" />
<line x1="373.90" y1="893.84" x2="376.90" y2="893.84" stroke="#6a6a6a" stroke-width="0.9" />
<text x="372.60" y="896.54" font-family='"Liberation Sans", sans-serif' font-size="7.6" text-anchor="end" fill="#222">30</text>
<line x1="375.10" y1="881.93" x2="376.90" y2="881.93" stroke="#6a6a6a" stroke-width="0.8" />
<line x1="373.90" y1="870.02" x2="376.90" y2="870.02" stroke="#6a6a6a" stroke-width="0.9" />
<text x="372.60" y="872.72" font-family='"Liberation Sans", sans-serif' font-size="7.6" text-anchor="end" fill="#222">40</text>
<line x1="375.10" y1="858.11" x2="376.90" y2="858.11" stroke="#6a6a6a" stroke-width="0.8" />
<line x1="373.90" y1="846.20" x2="376.90" y2="846.20" stroke="#6a6a6a" stroke-width="0.9" />
<text x="372.60" y="848.90" font-family='"Liberation Sans", sans-serif' font-size="7.6" text-anchor="end" fill="#222">50</text>
<line x1="375.10" y1="834.29" x2="376.90" y2="834.29" stroke="#6a6a6a" stroke-width="0.8" />
<line x1="373.90" y1="822.38" x2="376.90" y2="822.38" stroke="#6a6a6a" stroke-width="0.9" />
<text x="372.60" y="825.08" font-family='"Liberation Sans", sans-serif' font-size="7.6" text-anchor="end" fill="#222">60</text>
<text x="473.2" y="992" font-family='"Liberation Serif", serif' font-weight="bold" font-size="10.5" text-anchor="middle">EAB/<tspan font-style="italic">d</tspan> (GHz/mm)</text>
<text transform="translate(353.6,902.3) rotate(-90)" x="0" y="0" font-family='"Liberation Serif", serif' font-weight="bold" font-size="11.3" text-anchor="middle">|<tspan font-style="italic" font-size="12.5">R</tspan><tspan font-size="7" dy="3.6">Lmin</tspan><tspan dy="-3.6">/</tspan><tspan font-style="italic">d</tspan>| (dB/mm)</text>
<polygon points="389.0,919.3 392.1,921.1 392.1,924.7 389.0,926.5 385.9,924.7 385.9,921.1" fill="#808010"/>
<polygon points="393.1,921.6 396.9,925.4 393.1,929.2 389.3,925.4" fill="#22c0d0"/>
<circle cx="403.80" cy="919.90" r="3.30" fill="#ff1493"/>
<polygon points="414.2,915.4 407.8,911.7 407.8,919.1" fill="#a0642a"/>
<circle cx="413.00" cy="932.70" r="3.30" fill="#800000"/>
<polygon points="413.6,933.6 417.1,936.1 415.7,940.1 411.5,940.1 410.1,936.1" fill="#3366aa"/>
<polygon points="399.7,939.3 403.4,932.9 396.0,932.9" fill="#008b8b"/>
<polygon points="399.9,938.6 403.6,945.0 396.2,945.0" fill="#0000ff"/>
<polygon points="400.7,942.9 407.1,939.2 407.1,946.6" fill="#000080"/>
<polygon points="403.8,950.9 407.3,944.8 400.3,944.8" fill="#ff00ff"/>
<polygon points="400.3,944.3 404.0,948.0 400.3,951.7 396.6,948.0" fill="#008000"/>
<polygon points="410.5,944.0 413.4,945.7 413.4,949.1 410.5,950.8 407.6,949.1 407.6,945.7" fill="#800080"/>
<rect x="417.60" y="943.70" width="5.40" height="5.40" fill="#c0307a"/>
<polygon points="398.4,952.6 392.2,949.0 392.2,956.2" fill="#8000ff"/>
<rect x="403.10" y="949.90" width="5.40" height="5.40" fill="#000000"/>
<line x1="397.40" y1="958.10" x2="404.00" y2="958.10" stroke="#66ee66" stroke-width="0.9" /><line x1="398.37" y1="955.77" x2="403.03" y2="960.43" stroke="#66ee66" stroke-width="0.9" /><line x1="400.70" y1="954.80" x2="400.70" y2="961.40" stroke="#66ee66" stroke-width="0.9" /><line x1="403.03" y1="955.77" x2="398.37" y2="960.43" stroke="#66ee66" stroke-width="0.9" />
<polygon points="538.6,824.8 539.9,828.6 543.9,828.7 540.7,831.1 541.9,834.9 538.6,832.6 535.3,834.9 536.5,831.1 533.3,828.7 537.3,828.6" fill="#ff1010" fill-opacity="1.0"/>
<polygon points="552.9,885.6 554.2,889.4 558.2,889.5 555.0,891.9 556.2,895.7 552.9,893.4 549.6,895.7 550.8,891.9 547.6,889.5 551.6,889.4" fill="#ff1010" fill-opacity="1.0"/>
<rect x="580.40" y="813.20" width="5.80" height="5.80" fill="#000000"/>
<text id="st42" x="0" y="0" font-family='"Liberation Serif", serif' font-size="7.645" font-weight="normal" text-anchor="start" transform="translate(593.5,818.5) scale(0.9212,1)"><tspan>Si</tspan><tspan dy="2.14" font-size="4.20">3</tspan><tspan dy="-2.14">N</tspan><tspan dy="2.14" font-size="4.20">4</tspan><tspan dy="-2.14">–SiC/SiO</tspan><tspan dy="2.14" font-size="4.20">2</tspan><tspan dy="-2.14"> [S38]</tspan></text>
<circle cx="583.30" cy="827.50" r="2.90" fill="#ff1493"/>
<text id="st43" x="0" y="0" font-family='"Liberation Serif", serif' font-size="7.645" font-weight="normal" text-anchor="start" transform="translate(593.5,829.9) scale(0.9216,1)"><tspan>SiC</tspan><tspan dy="2.14" font-size="4.20">f</tspan><tspan dy="-2.14">/SiC-SiC</tspan><tspan dy="2.14" font-size="4.20">nw</tspan><tspan dy="-2.14"> [S39]</tspan></text>
<polygon points="583.3,835.4 586.5,840.9 580.1,840.9" fill="#0000ff"/>
<text id="st44" x="0" y="0" font-family='"Liberation Serif", serif' font-size="7.645" font-weight="normal" text-anchor="start" transform="translate(593.5,841.0) scale(0.9201,1)"><tspan>SiC/Si</tspan><tspan dy="2.14" font-size="4.20">3</tspan><tspan dy="-2.14">N</tspan><tspan dy="2.14" font-size="4.20">4</tspan><tspan dy="-2.14"> [S40]</tspan></text>
<polygon points="583.3,853.2 586.5,847.7 580.1,847.7" fill="#ff00ff"/>
<text id="st45" x="0" y="0" font-family='"Liberation Serif", serif' font-size="7.645" font-weight="normal" text-anchor="start" transform="translate(593.5,852.4) scale(0.9201,1)"><tspan>SiC/Si</tspan><tspan dy="2.14" font-size="4.20">3</tspan><tspan dy="-2.14">N</tspan><tspan dy="2.14" font-size="4.20">4</tspan><tspan dy="-2.14"> [S41]</tspan></text>
<polygon points="583.3,857.7 586.8,861.2 583.3,864.7 579.8,861.2" fill="#008000"/>
<text id="st46" x="0" y="0" font-family='"Liberation Serif", serif' font-size="7.645" font-weight="normal" text-anchor="start" transform="translate(593.5,863.6) scale(0.9140,1)"><tspan>SiC</tspan><tspan dy="2.14" font-size="4.20">f</tspan><tspan dy="-2.14">/BN/AlPO</tspan><tspan dy="2.14" font-size="4.20">4</tspan><tspan dy="-2.14">/MWCNTs [S42]</tspan></text>
<polygon points="580.1,872.2 585.6,869.0 585.6,875.4" fill="#000080"/>
<text id="st47" x="0" y="0" font-family='"Liberation Serif", serif' font-size="7.645" font-weight="normal" text-anchor="start" transform="translate(593.5,874.6) scale(0.9175,1)"><tspan>RGO-SiC</tspan><tspan dy="2.14" font-size="4.20">nw</tspan><tspan dy="-2.14">/SiBCN [S43]</tspan></text>
<polygon points="586.5,883.5 581.0,880.3 581.0,886.7" fill="#8000ff"/>
<text id="st48" x="0" y="0" font-family='"Liberation Serif", serif' font-size="7.645" font-weight="normal" text-anchor="start" transform="translate(593.5,885.9) scale(0.9196,1)"><tspan>SiC</tspan><tspan dy="2.14" font-size="4.20">f</tspan><tspan dy="-2.14">/SiC–Al</tspan><tspan dy="2.14" font-size="4.20">2</tspan><tspan dy="-2.14">O</tspan><tspan dy="2.14" font-size="4.20">3</tspan><tspan dy="-2.14"> [S44]</tspan></text>
<polygon points="583.3,891.7 585.9,893.2 585.9,896.2 583.3,897.7 580.7,896.2 580.7,893.2" fill="#800080"/>
<text id="st49" x="0" y="0" font-family='"Liberation Serif", serif' font-size="7.645" font-weight="normal" text-anchor="start" transform="translate(593.5,897.1) scale(0.9151,1)"><tspan>graphene@Fe</tspan><tspan dy="2.14" font-size="4.20">3</tspan><tspan dy="-2.14">O</tspan><tspan dy="2.14" font-size="4.20">4</tspan><tspan dy="-2.14">/SiBCN [S45]</tspan></text>
<circle cx="583.30" cy="905.90" r="2.90" fill="#800000"/>
<text id="st50" x="0" y="0" font-family='"Liberation Serif", serif' font-size="7.645" font-weight="normal" text-anchor="start" transform="translate(593.5,908.3) scale(0.9097,1)"><tspan>Fe-SiBCN [S46]</tspan></text>
<polygon points="583.3,911.3 586.3,913.5 585.2,917.1 581.4,917.1 580.3,913.5" fill="#808000"/>
<text id="st51" x="0" y="0" font-family='"Liberation Serif", serif' font-size="7.645" font-weight="normal" text-anchor="start" transform="translate(593.5,916.9) scale(0.9098,1)"><tspan>SiBCN [S47]</tspan></text>
<polygon points="583.3,920.3 586.3,922.5 585.2,926.1 581.4,926.1 580.3,922.5" fill="#3366aa"/>
<text id="st52" x="0" y="0" font-family='"Liberation Serif", serif' font-size="7.645" font-weight="normal" text-anchor="start" transform="translate(593.5,925.9) scale(0.9100,1)"><tspan>ZIF-67/SiBCN [S48]</tspan></text>
<polygon points="583.3,935.9 586.5,930.4 580.1,930.4" fill="#008b8b"/>
<text id="st53" x="0" y="0" font-family='"Liberation Serif", serif' font-size="7.645" font-weight="normal" text-anchor="start" transform="translate(593.5,935.1) scale(0.9099,1)"><tspan>TiC/SiBCN [S49]</tspan></text>
<polygon points="586.5,941.2 581.0,938.0 581.0,944.4" fill="#a0642a"/>
<text id="st54" x="0" y="0" font-family='"Liberation Serif", serif' font-size="7.645" font-weight="normal" text-anchor="start" transform="translate(593.5,943.6) scale(0.9263,1)"><tspan>Ti</tspan><tspan dy="2.14" font-size="4.20">3</tspan><tspan dy="-2.14">AlC</tspan><tspan dy="2.14" font-size="4.20">2</tspan><tspan dy="-2.14">@La</tspan><tspan dy="2.14" font-size="4.20">2</tspan><tspan dy="-2.14">Zr</tspan><tspan dy="2.14" font-size="4.20">2</tspan><tspan dy="-2.14">O</tspan><tspan dy="2.14" font-size="4.20">7</tspan><tspan dy="-2.14"> [S50]</tspan></text>
<line x1="580.11" y1="952.40" x2="586.49" y2="952.40" stroke="#66ee66" stroke-width="0.9" /><line x1="581.04" y1="950.14" x2="585.56" y2="954.66" stroke="#66ee66" stroke-width="0.9" /><line x1="583.30" y1="949.21" x2="583.30" y2="955.59" stroke="#66ee66" stroke-width="0.9" /><line x1="585.56" y1="950.14" x2="581.04" y2="954.66" stroke="#66ee66" stroke-width="0.9" />
<text id="st55" x="0" y="0" font-family='"Liberation Serif", serif' font-size="7.645" font-weight="normal" text-anchor="start" transform="translate(593.5,954.8) scale(0.9194,1)"><tspan>RGO/Si</tspan><tspan dy="2.14" font-size="4.20">3</tspan><tspan dy="-2.14">N</tspan><tspan dy="2.14" font-size="4.20">4</tspan><tspan dy="-2.14"> [S51]</tspan></text>
<rect x="580.40" y="960.40" width="5.80" height="5.80" fill="#c0307a"/>
<text id="st56" x="0" y="0" font-family='"Liberation Serif", serif' font-size="7.645" font-weight="normal" text-anchor="start" transform="translate(593.5,965.6999999999999) scale(0.9435,1)"><tspan>La</tspan><tspan dy="2.14" font-size="4.20">0.7</tspan><tspan dy="-2.14">Sr</tspan><tspan dy="2.14" font-size="4.20">0.3</tspan><tspan dy="-2.14">Mn</tspan><tspan dy="2.14" font-size="4.20">0.8</tspan><tspan dy="-2.14">Fe</tspan><tspan dy="2.14" font-size="4.20">0.2</tspan><tspan dy="-2.14">O</tspan><tspan dy="2.14" font-size="4.20">3</tspan><tspan dy="-2.14"> [S52]</tspan></text>
<polygon points="583.3,971.0 586.8,974.5 583.3,978.0 579.8,974.5" fill="#22c0d0"/>
<text id="st57" x="0" y="0" font-family='"Liberation Serif", serif' font-size="7.645" font-weight="normal" text-anchor="start" transform="translate(593.5,976.9) scale(0.9163,1)"><tspan>(FeCoNiCrMn)</tspan><tspan dy="2.14" font-size="4.20">3</tspan><tspan dy="-2.14">O</tspan><tspan dy="2.14" font-size="4.20">4</tspan><tspan dy="-2.14"> [S53]</tspan></text>
<polygon points="583.3,980.8 584.3,983.9 587.6,983.9 585.0,985.8 585.9,988.9 583.3,987.1 580.7,988.9 581.6,985.8 579.0,983.9 582.3,983.9" fill="#ff0000" fill-opacity="1.0"/>
<text id="st58" x="0" y="0" font-family='"Liberation Serif", serif' font-size="7.645" font-weight="normal" text-anchor="start" transform="translate(593.5,987.6999999999999) scale(0.9097,1)"><tspan>This work</tspan></text>
</svg>
</body></html>
